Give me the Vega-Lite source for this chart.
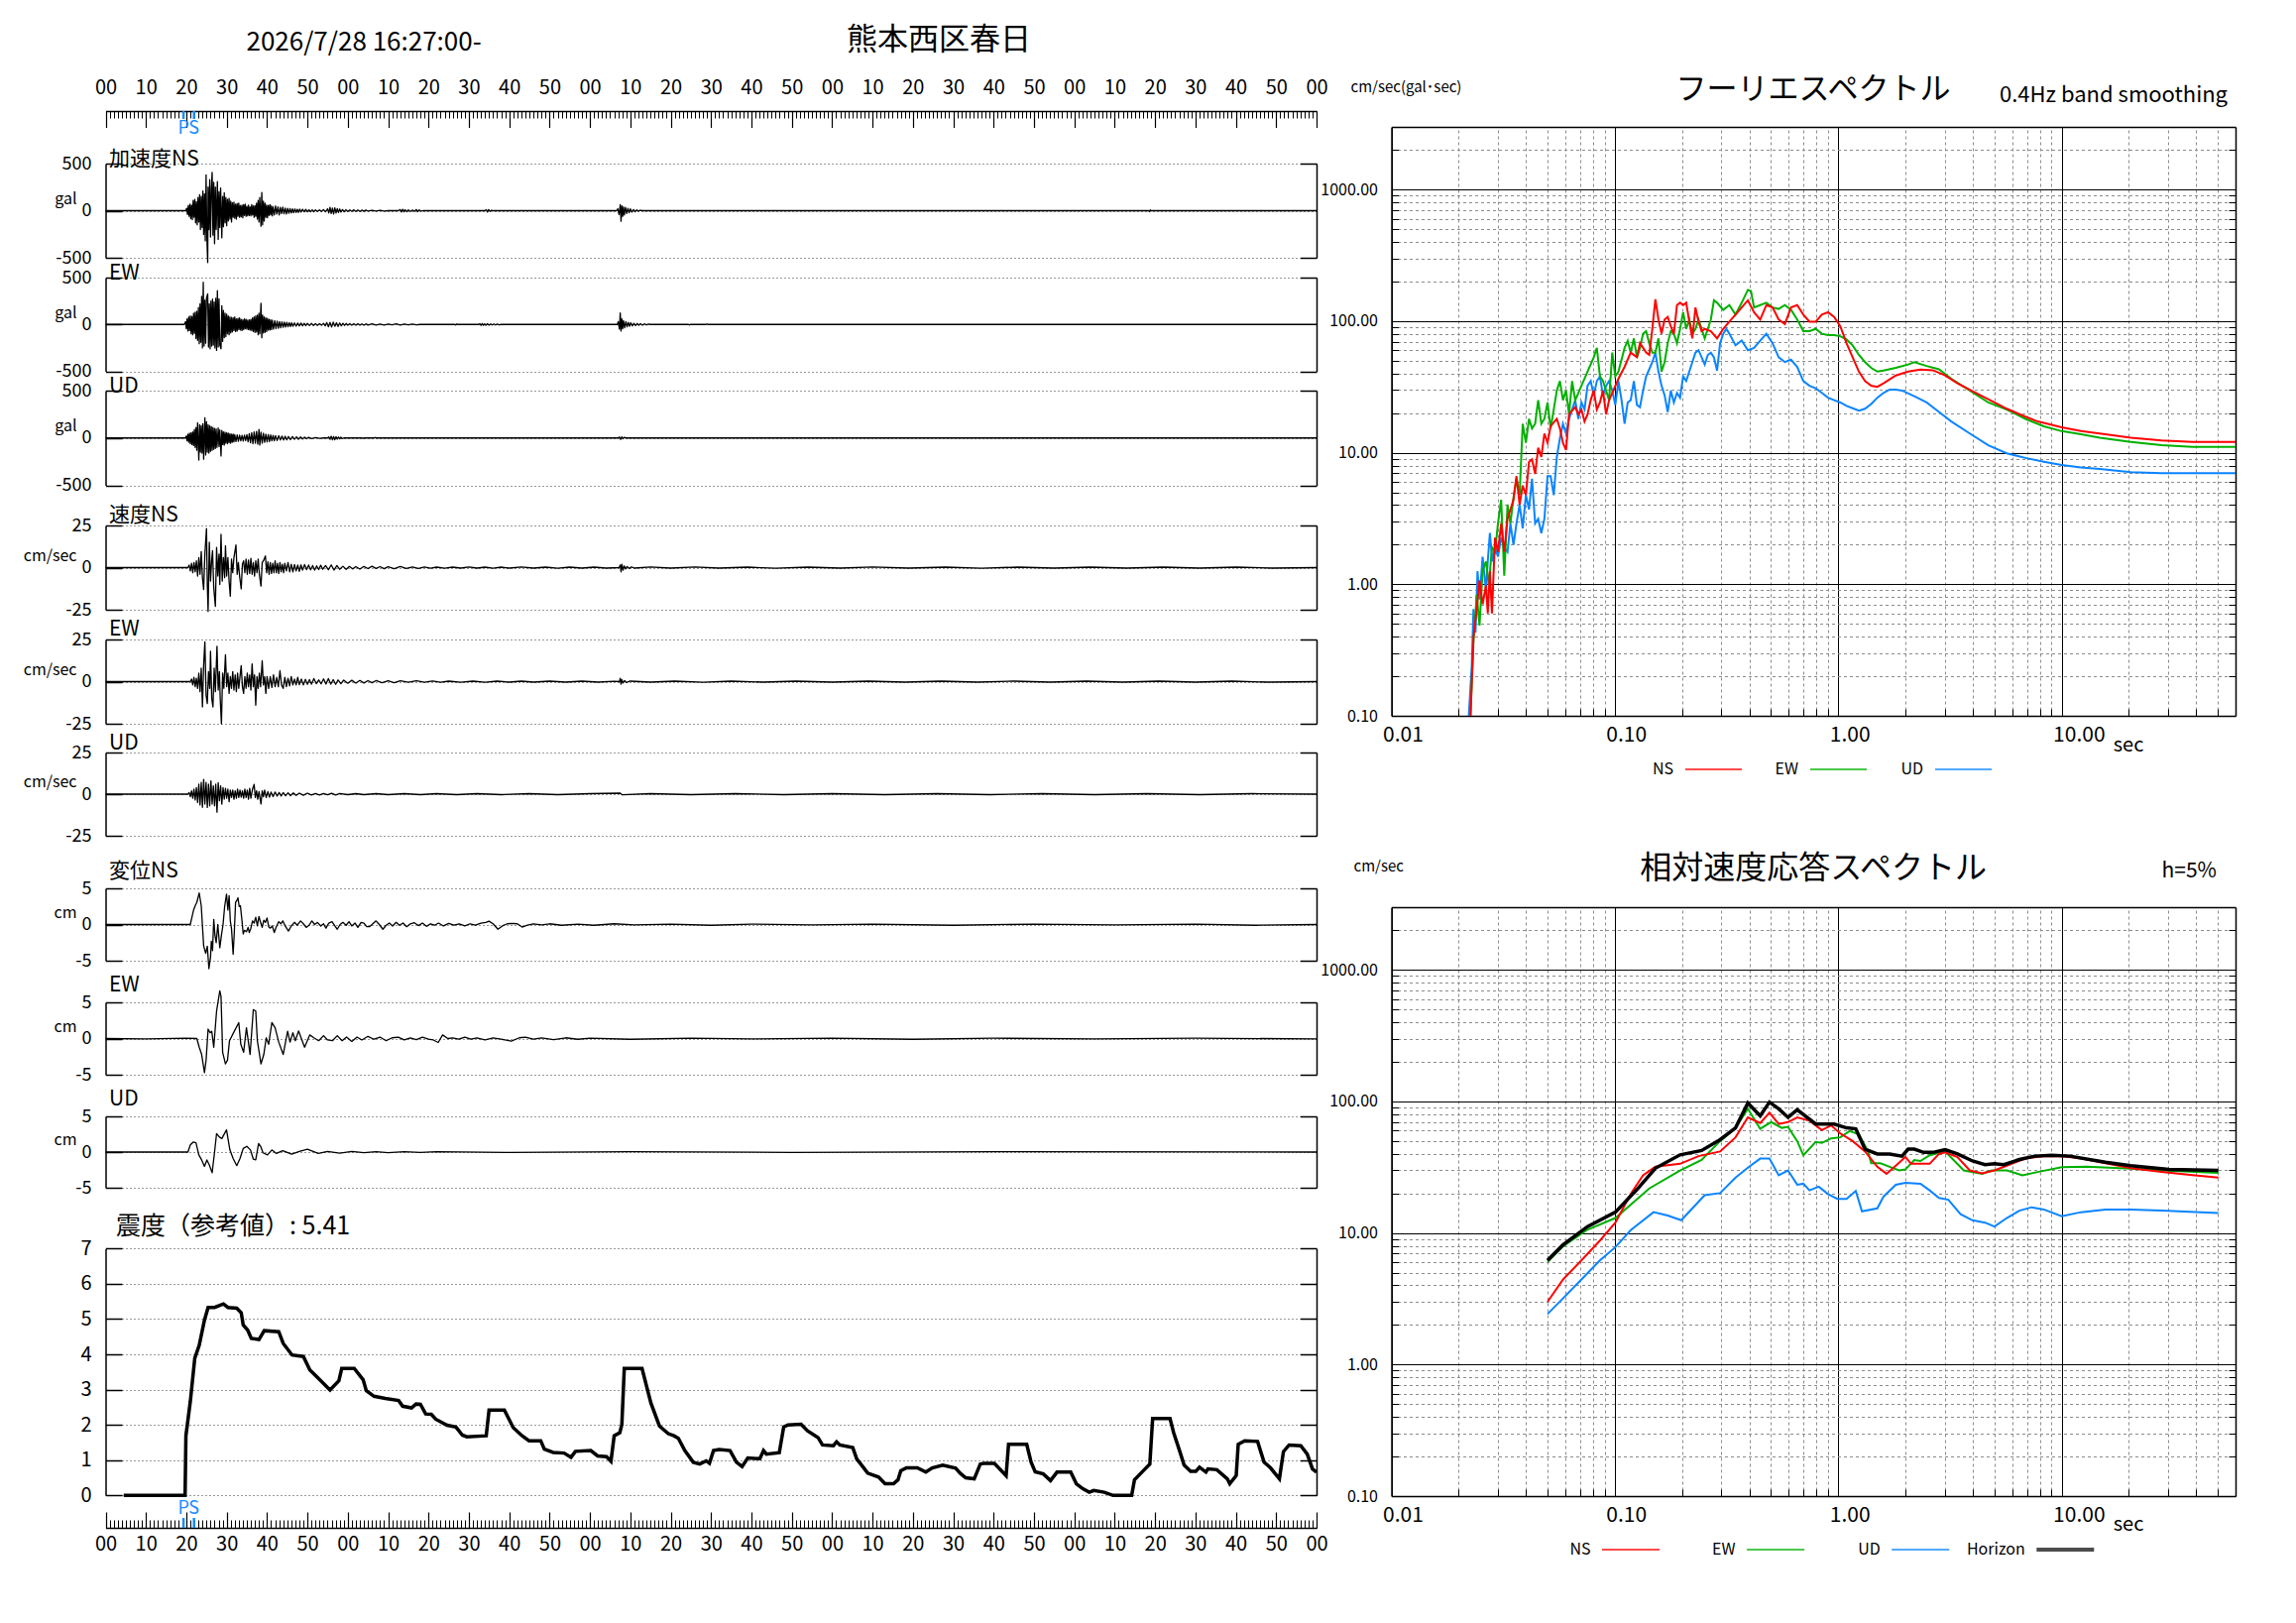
{
  "$schema": "https://vega.github.io/schema/vega-lite/v6.json",
  "width": 2316,
  "height": 1637,
  "autosize": {"type": "none"},
  "padding": 0,
  "background": "white",
  "config": {
    "view": {"stroke": null},
    "font": "Noto Sans CJK JP",
    "text": {"font": "Noto Sans CJK JP", "color": "#000"},
    "axis": {
      "labelFont": "Noto Sans CJK JP", "titleFont": "Noto Sans CJK JP",
      "labelColor": "#000", "titleColor": "#000", "domainColor": "#000", "tickColor": "#000",
      "labelFlush": false, "labelOverlap": false, "titleFontWeight": "normal",
      "gridColor": "#999", "gridDash": [2, 2], "gridWidth": 1, "tickWidth": 1
    }
  },
  "datasets": {
    "ps": [{"t": 19.3, "p": "P"}, {"t": 21.9, "p": "S"}],
    "fleg": [{"c": "NS"}, {"c": "EW"}, {"c": "UD"}],
    "rleg": [{"c": "NS"}, {"c": "EW"}, {"c": "UD"}, {"c": "Horizon"}],
    "aNS": [
      {"t":0,"v":0},{"t":19.8,"v":0},{"t":20.1,"v":25},{"t":20.3,"v":-40},{"t":20.5,"v":55},{"t":20.7,"v":-60},{"t":20.9,"v":70},{"t":21.1,"v":-85},{"t":21.3,"v":60},{"t":21.5,"v":-95},{"t":21.7,"v":110},{"t":21.9,"v":-70},{"t":22.1,"v":120},{"t":22.3,"v":-130},{"t":22.5,"v":95},{"t":22.7,"v":-150},{"t":22.9,"v":140},{"t":23.1,"v":-120},{"t":23.3,"v":170},{"t":23.5,"v":-200},{"t":23.7,"v":150},{"t":23.9,"v":-180},{"t":24.1,"v":210},{"t":24.3,"v":-253},{"t":24.5,"v":180},{"t":24.7,"v":-320},{"t":24.9,"v":379},{"t":25.1,"v":-300},{"t":25.3,"v":-551},{"t":25.4,"v":250},{"t":25.6,"v":-200},{"t":25.8,"v":330},{"t":26.0,"v":-280},{"t":26.2,"v":230},{"t":26.4,"v":407},{"t":26.6,"v":-260},{"t":26.8,"v":300},{"t":27.0,"v":-350},{"t":27.2,"v":250},{"t":27.4,"v":-200},{"t":27.7,"v":309},{"t":27.9,"v":-305},{"t":28.1,"v":200},{"t":28.3,"v":-180},{"t":28.5,"v":240},{"t":28.8,"v":-288},{"t":29.0,"v":150},{"t":29.2,"v":-170},{"t":29.4,"v":190},{"t":29.6,"v":-130},{"t":29.8,"v":140},{"t":30.0,"v":-160},{"t":30.2,"v":120},{"t":30.4,"v":-110},{"t":30.6,"v":130},{"t":30.8,"v":-90},{"t":31.0,"v":100},{"t":31.2,"v":-120},{"t":31.4,"v":85},{"t":31.6,"v":-70},{"t":31.8,"v":90},{"t":32.0,"v":-80},{"t":32.2,"v":70},{"t":32.4,"v":-90},{"t":32.6,"v":75},{"t":32.8,"v":-60},{"t":33.0,"v":80},{"t":33.2,"v":-70},{"t":33.4,"v":55},{"t":33.6,"v":-65},{"t":33.8,"v":60},{"t":34.0,"v":-75},{"t":34.2,"v":65},{"t":34.4,"v":-50},{"t":34.6,"v":70},{"t":34.8,"v":-60},{"t":35.0,"v":45},{"t":35.2,"v":-55},{"t":35.4,"v":60},{"t":35.6,"v":-50},{"t":35.8,"v":40},{"t":36.0,"v":-55},{"t":36.2,"v":65},{"t":36.4,"v":-45},{"t":36.6,"v":50},{"t":36.8,"v":-70},{"t":37.0,"v":55},{"t":37.2,"v":-60},{"t":37.4,"v":80},{"t":37.6,"v":-90},{"t":37.8,"v":110},{"t":38.0,"v":-120},{"t":38.2,"v":140},{"t":38.5,"v":-165},{"t":38.7,"v":193},{"t":38.9,"v":-150},{"t":39.1,"v":100},{"t":39.3,"v":-110},{"t":39.5,"v":80},{"t":39.7,"v":-70},{"t":39.9,"v":60},{"t":40.1,"v":-75},{"t":40.3,"v":55},{"t":40.5,"v":-50},{"t":40.7,"v":65},{"t":40.9,"v":-45},{"t":41.1,"v":50},{"t":41.3,"v":-55},{"t":41.5,"v":40},{"t":41.8,"v":-45},{"t":42.1,"v":50},{"t":42.4,"v":-35},{"t":42.7,"v":40},{"t":43.0,"v":-45},{"t":43.3,"v":35},{"t":43.6,"v":-30},{"t":43.9,"v":38},{"t":44.2,"v":-32},{"t":44.5,"v":28},{"t":44.8,"v":-35},{"t":45.1,"v":25},{"t":45.4,"v":-28},{"t":45.7,"v":22},{"t":46.0,"v":-25},{"t":46.3,"v":20},{"t":46.6,"v":-22},{"t":46.9,"v":18},{"t":47.2,"v":-20},{"t":47.5,"v":15},{"t":47.8,"v":-18},{"t":48.1,"v":16},{"t":48.4,"v":-14},{"t":48.8,"v":15},{"t":49.2,"v":-12},{"t":49.6,"v":14},{"t":50.0,"v":-12},{"t":50.4,"v":10},{"t":50.8,"v":-11},{"t":51.2,"v":9},{"t":51.6,"v":-10},{"t":52.0,"v":8},{"t":52.5,"v":-9},{"t":53.0,"v":8},{"t":53.5,"v":-8},{"t":54.0,"v":10},{"t":54.5,"v":-12},{"t":55.0,"v":20},{"t":55.3,"v":-25},{"t":55.6,"v":35},{"t":55.9,"v":-30},{"t":56.2,"v":28},{"t":56.5,"v":-35},{"t":56.8,"v":30},{"t":57.1,"v":-25},{"t":57.4,"v":22},{"t":57.7,"v":-20},{"t":58.0,"v":18},{"t":58.3,"v":-15},{"t":58.7,"v":12},{"t":59.1,"v":-12},{"t":59.5,"v":10},{"t":60.0,"v":-9},{"t":60.5,"v":8},{"t":61,"v":-7},{"t":61.5,"v":9},{"t":62,"v":-8},{"t":62.5,"v":7},{"t":63,"v":-8},{"t":63.5,"v":6},{"t":64,"v":-7},{"t":64.5,"v":6},{"t":65,"v":-5},{"t":66,"v":5},{"t":67,"v":-5},{"t":68,"v":4},{"t":69,"v":-4},{"t":70,"v":0},{"t":72.5,"v":0},{"t":73.0,"v":12},{"t":73.3,"v":-14},{"t":73.6,"v":15},{"t":73.9,"v":-12},{"t":74.2,"v":10},{"t":74.6,"v":-10},{"t":75.0,"v":8},{"t":75.5,"v":-8},{"t":76,"v":6},{"t":76.5,"v":-7},{"t":77,"v":12},{"t":77.3,"v":-10},{"t":77.7,"v":8},{"t":78.2,"v":-5},{"t":78.6,"v":0},{"t":94.0,"v":0},{"t":94.3,"v":10},{"t":94.6,"v":-14},{"t":94.9,"v":12},{"t":95.2,"v":-8},{"t":95.6,"v":5},{"t":96.0,"v":0},{"t":126.6,"v":0},{"t":126.9,"v":20},{"t":127.2,"v":-40},{"t":127.5,"v":63},{"t":127.7,"v":-112},{"t":127.9,"v":50},{"t":128.1,"v":-60},{"t":128.3,"v":40},{"t":128.5,"v":-45},{"t":128.8,"v":35},{"t":129.1,"v":-30},{"t":129.4,"v":25},{"t":129.7,"v":-22},{"t":130.0,"v":20},{"t":130.4,"v":-15},{"t":130.8,"v":12},{"t":131.2,"v":-10},{"t":131.6,"v":8},{"t":132.0,"v":-6},{"t":132.4,"v":5},{"t":133,"v":0},{"t":258.4,"v":0},{"t":258.6,"v":-10},{"t":258.8,"v":8},{"t":259,"v":0},{"t":300,"v":0}
    ],
    "aEW": [
      {"t":0,"v":0},{"t":19.5,"v":0},{"t":19.8,"v":30},{"t":20.0,"v":-45},{"t":20.2,"v":60},{"t":20.4,"v":-70},{"t":20.6,"v":80},{"t":20.8,"v":-65},{"t":21.0,"v":90},{"t":21.2,"v":-100},{"t":21.4,"v":85},{"t":21.6,"v":-110},{"t":21.8,"v":120},{"t":22.0,"v":-95},{"t":22.2,"v":130},{"t":22.4,"v":-150},{"t":22.6,"v":140},{"t":22.8,"v":-170},{"t":23.0,"v":180},{"t":23.2,"v":-205},{"t":23.4,"v":220},{"t":23.6,"v":-190},{"t":23.8,"v":300},{"t":24.0,"v":-250},{"t":24.2,"v":450},{"t":24.4,"v":-230},{"t":24.6,"v":260},{"t":24.8,"v":-200},{"t":25.0,"v":280},{"t":25.3,"v":326},{"t":25.5,"v":-241},{"t":25.7,"v":220},{"t":25.9,"v":-260},{"t":26.1,"v":250},{"t":26.3,"v":-230},{"t":26.5,"v":270},{"t":26.7,"v":-220},{"t":26.9,"v":240},{"t":27.1,"v":-250},{"t":27.3,"v":280},{"t":27.5,"v":-277},{"t":27.7,"v":360},{"t":27.9,"v":-240},{"t":28.1,"v":273},{"t":28.3,"v":-220},{"t":28.6,"v":-259},{"t":28.8,"v":200},{"t":29.0,"v":-180},{"t":29.2,"v":150},{"t":29.4,"v":-140},{"t":29.6,"v":120},{"t":29.8,"v":-130},{"t":30.0,"v":110},{"t":30.2,"v":-100},{"t":30.4,"v":90},{"t":30.6,"v":-110},{"t":30.8,"v":80},{"t":31.0,"v":-90},{"t":31.2,"v":75},{"t":31.4,"v":-80},{"t":31.6,"v":70},{"t":31.8,"v":-65},{"t":32.0,"v":80},{"t":32.2,"v":-75},{"t":32.4,"v":60},{"t":32.6,"v":-70},{"t":32.8,"v":65},{"t":33.0,"v":-55},{"t":33.2,"v":70},{"t":33.4,"v":-60},{"t":33.6,"v":55},{"t":33.8,"v":-65},{"t":34.0,"v":50},{"t":34.2,"v":-55},{"t":34.4,"v":60},{"t":34.6,"v":-45},{"t":34.8,"v":55},{"t":35.0,"v":-50},{"t":35.2,"v":45},{"t":35.4,"v":-55},{"t":35.6,"v":50},{"t":35.8,"v":-60},{"t":36.0,"v":55},{"t":36.2,"v":-65},{"t":36.4,"v":70},{"t":36.6,"v":-75},{"t":36.8,"v":80},{"t":37.0,"v":-85},{"t":37.2,"v":90},{"t":37.4,"v":-80},{"t":37.6,"v":100},{"t":37.8,"v":-110},{"t":38.0,"v":120},{"t":38.2,"v":-100},{"t":38.5,"v":227},{"t":38.7,"v":-142},{"t":38.9,"v":100},{"t":39.1,"v":-90},{"t":39.3,"v":80},{"t":39.5,"v":-85},{"t":39.7,"v":70},{"t":39.9,"v":-75},{"t":40.1,"v":65},{"t":40.3,"v":-60},{"t":40.5,"v":55},{"t":40.7,"v":-60},{"t":40.9,"v":50},{"t":41.1,"v":-55},{"t":41.3,"v":45},{"t":41.6,"v":-50},{"t":41.9,"v":40},{"t":42.2,"v":-45},{"t":42.5,"v":35},{"t":42.8,"v":-40},{"t":43.1,"v":30},{"t":43.4,"v":-35},{"t":43.7,"v":28},{"t":44.0,"v":-30},{"t":44.3,"v":25},{"t":44.6,"v":-28},{"t":44.9,"v":22},{"t":45.2,"v":-25},{"t":45.5,"v":20},{"t":45.8,"v":-22},{"t":46.1,"v":18},{"t":46.4,"v":-20},{"t":46.8,"v":16},{"t":47.2,"v":-18},{"t":47.6,"v":15},{"t":48.0,"v":-16},{"t":48.4,"v":14},{"t":48.8,"v":-15},{"t":49.2,"v":12},{"t":49.6,"v":-13},{"t":50.0,"v":11},{"t":50.5,"v":-12},{"t":51.0,"v":10},{"t":51.5,"v":-11},{"t":52.0,"v":9},{"t":52.5,"v":-10},{"t":53.0,"v":8},{"t":53.5,"v":-9},{"t":54.0,"v":12},{"t":54.4,"v":-15},{"t":54.8,"v":20},{"t":55.2,"v":-25},{"t":55.6,"v":22},{"t":56.0,"v":-28},{"t":56.4,"v":25},{"t":56.8,"v":-20},{"t":57.2,"v":18},{"t":57.6,"v":-22},{"t":58.0,"v":15},{"t":58.4,"v":-14},{"t":58.8,"v":12},{"t":59.2,"v":-10},{"t":59.6,"v":10},{"t":60.0,"v":-9},{"t":60.5,"v":8},{"t":61,"v":-9},{"t":61.5,"v":7},{"t":62,"v":-8},{"t":62.5,"v":8},{"t":63,"v":-7},{"t":63.5,"v":6},{"t":64,"v":-8},{"t":64.5,"v":6},{"t":65,"v":-6},{"t":66,"v":7},{"t":67,"v":-6},{"t":68,"v":5},{"t":69,"v":-6},{"t":70,"v":5},{"t":71,"v":-5},{"t":72,"v":6},{"t":73,"v":-6},{"t":74,"v":5},{"t":75,"v":-5},{"t":76,"v":4},{"t":77,"v":-4},{"t":78,"v":0},{"t":86.5,"v":0},{"t":86.7,"v":-6},{"t":86.9,"v":5},{"t":87.1,"v":0},{"t":92.4,"v":0},{"t":92.7,"v":8},{"t":93.0,"v":-10},{"t":93.3,"v":9},{"t":93.6,"v":-8},{"t":93.9,"v":7},{"t":94.2,"v":-9},{"t":94.6,"v":8},{"t":95.0,"v":-7},{"t":95.4,"v":6},{"t":95.8,"v":-6},{"t":96.2,"v":5},{"t":96.6,"v":-5},{"t":97.0,"v":4},{"t":97.5,"v":-4},{"t":98,"v":0},{"t":126.8,"v":0},{"t":127.0,"v":30},{"t":127.3,"v":-50},{"t":127.5,"v":124},{"t":127.7,"v":-71},{"t":127.9,"v":60},{"t":128.1,"v":-45},{"t":128.3,"v":40},{"t":128.6,"v":-35},{"t":128.9,"v":30},{"t":129.2,"v":-25},{"t":129.5,"v":22},{"t":129.8,"v":-20},{"t":130.1,"v":18},{"t":130.5,"v":-15},{"t":130.9,"v":12},{"t":131.3,"v":-12},{"t":131.7,"v":10},{"t":132.1,"v":-9},{"t":132.5,"v":8},{"t":133,"v":-7},{"t":133.5,"v":6},{"t":134,"v":-5},{"t":134.5,"v":4},{"t":135,"v":0},{"t":144.4,"v":0},{"t":144.6,"v":-6},{"t":144.8,"v":0},{"t":148.8,"v":0},{"t":149.0,"v":5},{"t":149.2,"v":0},{"t":300,"v":0}
    ],
    "aUD": [
      {"t":0,"v":0},{"t":19.8,"v":0},{"t":20.0,"v":20},{"t":20.2,"v":-30},{"t":20.4,"v":40},{"t":20.6,"v":-45},{"t":20.8,"v":50},{"t":21.0,"v":-60},{"t":21.2,"v":55},{"t":21.4,"v":-70},{"t":21.6,"v":65},{"t":21.8,"v":-80},{"t":22.0,"v":90},{"t":22.2,"v":-100},{"t":22.4,"v":110},{"t":22.6,"v":-130},{"t":22.8,"v":160},{"t":23.1,"v":-234},{"t":23.3,"v":140},{"t":23.5,"v":-150},{"t":23.7,"v":130},{"t":23.9,"v":-160},{"t":24.1,"v":150},{"t":24.3,"v":-224},{"t":24.6,"v":213},{"t":24.8,"v":-180},{"t":25.0,"v":170},{"t":25.2,"v":-150},{"t":25.4,"v":140},{"t":25.6,"v":-160},{"t":25.8,"v":130},{"t":26.0,"v":-140},{"t":26.2,"v":120},{"t":26.4,"v":-130},{"t":26.6,"v":110},{"t":26.8,"v":-120},{"t":27.0,"v":100},{"t":27.2,"v":-110},{"t":27.4,"v":95},{"t":27.6,"v":-100},{"t":27.9,"v":105},{"t":28.1,"v":-90},{"t":28.3,"v":85},{"t":28.6,"v":-190},{"t":28.8,"v":80},{"t":29.0,"v":-70},{"t":29.2,"v":65},{"t":29.4,"v":-75},{"t":29.6,"v":60},{"t":29.8,"v":-55},{"t":30.0,"v":55},{"t":30.2,"v":-60},{"t":30.4,"v":50},{"t":30.6,"v":-50},{"t":30.8,"v":45},{"t":31.0,"v":-55},{"t":31.2,"v":40},{"t":31.4,"v":-45},{"t":31.6,"v":40},{"t":31.8,"v":-40},{"t":32.0,"v":35},{"t":32.3,"v":-38},{"t":32.6,"v":32},{"t":32.9,"v":-35},{"t":33.2,"v":30},{"t":33.5,"v":-30},{"t":33.8,"v":28},{"t":34.1,"v":-32},{"t":34.4,"v":30},{"t":34.7,"v":-28},{"t":35.0,"v":35},{"t":35.3,"v":-40},{"t":35.6,"v":45},{"t":35.9,"v":-50},{"t":36.2,"v":55},{"t":36.5,"v":-60},{"t":36.8,"v":65},{"t":37.1,"v":-55},{"t":37.4,"v":70},{"t":37.7,"v":-65},{"t":38.0,"v":90},{"t":38.2,"v":-75},{"t":38.5,"v":60},{"t":38.8,"v":-55},{"t":39.1,"v":50},{"t":39.4,"v":-45},{"t":39.7,"v":40},{"t":40.0,"v":-42},{"t":40.3,"v":35},{"t":40.6,"v":-38},{"t":40.9,"v":32},{"t":41.2,"v":-30},{"t":41.5,"v":28},{"t":41.8,"v":-30},{"t":42.1,"v":25},{"t":42.5,"v":-27},{"t":42.9,"v":24},{"t":43.3,"v":-22},{"t":43.7,"v":20},{"t":44.1,"v":-22},{"t":44.5,"v":18},{"t":44.9,"v":-20},{"t":45.3,"v":16},{"t":45.8,"v":-18},{"t":46.3,"v":15},{"t":46.8,"v":-14},{"t":47.3,"v":12},{"t":47.8,"v":-13},{"t":48.3,"v":10},{"t":48.8,"v":-11},{"t":49.3,"v":9},{"t":49.8,"v":-8},{"t":50.3,"v":7},{"t":51,"v":-6},{"t":52,"v":5},{"t":53,"v":-5},{"t":54,"v":0},{"t":55.0,"v":0},{"t":55.3,"v":12},{"t":55.6,"v":-15},{"t":55.9,"v":18},{"t":56.2,"v":-20},{"t":56.5,"v":15},{"t":56.8,"v":-18},{"t":57.1,"v":14},{"t":57.4,"v":-12},{"t":57.7,"v":10},{"t":58.0,"v":-9},{"t":58.3,"v":8},{"t":58.6,"v":-6},{"t":59,"v":0},{"t":63.6,"v":0},{"t":63.8,"v":-6},{"t":64,"v":0},{"t":66.6,"v":0},{"t":66.8,"v":5},{"t":67,"v":0},{"t":127.0,"v":0},{"t":127.3,"v":10},{"t":127.6,"v":-15},{"t":127.9,"v":12},{"t":128.2,"v":-8},{"t":128.5,"v":6},{"t":129,"v":0},{"t":300,"v":0}
    ],
    "vNS": [
      {"t":0,"v":0},{"t":20.4,"v":0},{"t":20.7,"v":1.5},{"t":21.0,"v":-2},{"t":21.3,"v":2.5},{"t":21.6,"v":-3},{"t":21.9,"v":3},{"t":22.2,"v":-2.5},{"t":22.5,"v":4},{"t":22.8,"v":-5},{"t":23.1,"v":6},{"t":23.4,"v":-4},{"t":23.7,"v":9.5},{"t":24.0,"v":-6},{"t":24.3,"v":-13},{"t":24.6,"v":8},{"t":25.0,"v":23.2},{"t":25.2,"v":-10},{"t":25.4,"v":-26},{"t":25.7,"v":15},{"t":26.0,"v":-8},{"t":26.3,"v":5},{"t":26.5,"v":10},{"t":26.8,"v":-12},{"t":27.2,"v":-23},{"t":27.5,"v":12},{"t":27.8,"v":-5},{"t":28.1,"v":8},{"t":28.3,"v":-10},{"t":28.6,"v":19.7},{"t":28.9,"v":-8},{"t":29.2,"v":6},{"t":29.5,"v":-6},{"t":29.7,"v":13},{"t":30.0,"v":-5},{"t":30.3,"v":6},{"t":30.6,"v":-8},{"t":30.9,"v":-17},{"t":31.2,"v":5},{"t":31.5,"v":-3},{"t":31.8,"v":6},{"t":32.3,"v":13.4},{"t":32.6,"v":-4},{"t":32.9,"v":3},{"t":33.2,"v":-5},{"t":33.6,"v":-12.6},{"t":33.9,"v":2},{"t":34.2,"v":4},{"t":34.5,"v":-3},{"t":34.8,"v":5},{"t":35.1,"v":-4},{"t":35.4,"v":4.5},{"t":35.7,"v":-3.5},{"t":36.0,"v":5.5},{"t":36.3,"v":-4},{"t":36.6,"v":3},{"t":36.9,"v":-5},{"t":37.2,"v":4},{"t":37.5,"v":-3},{"t":37.8,"v":5},{"t":38.1,"v":-4},{"t":38.5,"v":-11},{"t":38.8,"v":3},{"t":39.1,"v":4},{"t":39.6,"v":6.9},{"t":39.9,"v":-3},{"t":40.2,"v":3.5},{"t":40.5,"v":-4},{"t":40.8,"v":3},{"t":41.1,"v":-3.5},{"t":41.4,"v":2.5},{"t":41.7,"v":-3},{"t":42.0,"v":4},{"t":42.3,"v":-3},{"t":42.6,"v":2.5},{"t":42.9,"v":-3.5},{"t":43.2,"v":3},{"t":43.5,"v":-2.5},{"t":43.8,"v":2},{"t":44.1,"v":-3},{"t":44.4,"v":2.5},{"t":44.8,"v":-2},{"t":45.2,"v":3},{"t":45.6,"v":-2.5},{"t":46.0,"v":2},{"t":46.4,"v":-2.5},{"t":46.8,"v":1.8},{"t":47.2,"v":-2},{"t":47.6,"v":1.5},{"t":48.0,"v":-2.2},{"t":48.4,"v":1.6},{"t":48.8,"v":-1.5},{"t":49.3,"v":1.8},{"t":49.8,"v":-1.2},{"t":50.3,"v":1.5},{"t":50.8,"v":-1.3},{"t":51.3,"v":1.2},{"t":51.8,"v":-1.5},{"t":52.3,"v":1.0},{"t":52.8,"v":-1.2},{"t":53.3,"v":1.4},{"t":53.8,"v":-1.0},{"t":54.5,"v":1.2},{"t":55.2,"v":-1.3},{"t":55.9,"v":1.6},{"t":56.6,"v":-1.5},{"t":57.3,"v":1.2},{"t":58.0,"v":-1.0},{"t":58.8,"v":0.8},{"t":59.6,"v":-1.0},{"t":60.4,"v":0.7},{"t":61.2,"v":-0.8},{"t":62,"v":0.6},{"t":63,"v":-0.9},{"t":64,"v":0.7},{"t":65,"v":-0.6},{"t":66,"v":0.8},{"t":67,"v":-0.5},{"t":68,"v":0.6},{"t":69,"v":-0.7},{"t":70,"v":0.5},{"t":71.5,"v":-0.6},{"t":73,"v":0.7},{"t":74.5,"v":-0.5},{"t":76,"v":0.4},{"t":77.5,"v":-0.5},{"t":79,"v":0.4},{"t":80.5,"v":-0.4},{"t":82,"v":0.3},{"t":84,"v":-0.4},{"t":86,"v":0.3},{"t":88,"v":-0.3},{"t":90,"v":0.4},{"t":92,"v":-0.3},{"t":94,"v":0.3},{"t":96,"v":-0.4},{"t":98,"v":0.3},{"t":100,"v":-0.3},{"t":103,"v":0.4},{"t":106,"v":-0.3},{"t":109,"v":0.3},{"t":112,"v":-0.4},{"t":115,"v":0.3},{"t":118,"v":-0.3},{"t":121,"v":0.3},{"t":124,"v":-0.3},{"t":127.2,"v":0},{"t":127.5,"v":1.5},{"t":127.7,"v":-2.5},{"t":127.9,"v":2.0},{"t":128.2,"v":-1.5},{"t":128.5,"v":1.0},{"t":128.8,"v":-0.8},{"t":129.2,"v":0.6},{"t":129.7,"v":-0.5},{"t":130.3,"v":0.4},{"t":131,"v":-0.3},{"t":135,"v":0.4},{"t":140,"v":-0.3},{"t":146,"v":0.4},{"t":152,"v":-0.3},{"t":159,"v":0.3},{"t":166,"v":-0.4},{"t":174,"v":0.3},{"t":182,"v":-0.3},{"t":190,"v":0.4},{"t":199,"v":-0.3},{"t":208,"v":0.3},{"t":217,"v":-0.4},{"t":226,"v":0.3},{"t":235,"v":-0.3},{"t":244,"v":0.3},{"t":253,"v":-0.3},{"t":262,"v":0.3},{"t":271,"v":-0.3},{"t":280,"v":0.3},{"t":289,"v":-0.3},{"t":300,"v":0}
    ],
    "vEW": [
      {"t":0,"v":0},{"t":21.0,"v":0},{"t":21.3,"v":1.5},{"t":21.6,"v":-2},{"t":21.9,"v":2.5},{"t":22.2,"v":-3},{"t":22.5,"v":2},{"t":22.8,"v":-4},{"t":23.1,"v":5},{"t":23.4,"v":-6},{"t":23.7,"v":8},{"t":24.0,"v":-15},{"t":24.3,"v":10},{"t":24.6,"v":23.6},{"t":24.9,"v":-8},{"t":25.2,"v":-13},{"t":25.5,"v":6},{"t":25.8,"v":-4},{"t":26.0,"v":18},{"t":26.3,"v":-10},{"t":26.6,"v":-15},{"t":26.9,"v":8},{"t":27.2,"v":-6},{"t":27.6,"v":21},{"t":27.9,"v":-5},{"t":28.2,"v":6},{"t":28.4,"v":-10},{"t":28.7,"v":-25},{"t":29.0,"v":5},{"t":29.3,"v":-4},{"t":29.7,"v":16},{"t":30.0,"v":-3},{"t":30.3,"v":5},{"t":30.6,"v":-7},{"t":30.9,"v":3},{"t":31.2,"v":-4},{"t":31.5,"v":6},{"t":31.8,"v":-5},{"t":32.1,"v":4},{"t":32.4,"v":-6},{"t":32.7,"v":5},{"t":33.0,"v":-4},{"t":33.3,"v":3},{"t":33.6,"v":9.5},{"t":33.9,"v":-3},{"t":34.2,"v":-7},{"t":34.5,"v":3},{"t":34.8,"v":-4},{"t":35.1,"v":5},{"t":35.4,"v":-3},{"t":35.7,"v":4},{"t":36.0,"v":-5},{"t":36.3,"v":10.5},{"t":36.6,"v":-3},{"t":36.9,"v":4},{"t":37.2,"v":-14},{"t":37.5,"v":3},{"t":37.8,"v":-4},{"t":38.1,"v":5},{"t":38.4,"v":-3},{"t":38.8,"v":12.4},{"t":39.1,"v":-2},{"t":39.4,"v":3},{"t":39.7,"v":-7},{"t":40.0,"v":3},{"t":40.4,"v":-4},{"t":40.8,"v":3},{"t":41.2,"v":-3.5},{"t":41.6,"v":4},{"t":42.0,"v":-3},{"t":42.4,"v":2.5},{"t":42.8,"v":-3},{"t":43.2,"v":6.5},{"t":43.6,"v":-2},{"t":44.0,"v":-4},{"t":44.4,"v":2.5},{"t":44.8,"v":-3},{"t":45.2,"v":2},{"t":45.6,"v":-2.5},{"t":46.0,"v":3},{"t":46.4,"v":-2},{"t":46.8,"v":1.5},{"t":47.2,"v":-2},{"t":47.6,"v":2.5},{"t":48.0,"v":-1.8},{"t":48.5,"v":1.5},{"t":49.0,"v":-2},{"t":49.5,"v":1.4},{"t":50.0,"v":-1.6},{"t":50.5,"v":1.2},{"t":51.0,"v":-1.5},{"t":51.6,"v":1.8},{"t":52.2,"v":-1.2},{"t":52.8,"v":1.0},{"t":53.4,"v":-1.3},{"t":54.0,"v":1.6},{"t":54.6,"v":-1.4},{"t":55.2,"v":1.8},{"t":55.8,"v":-1.5},{"t":56.4,"v":1.2},{"t":57.0,"v":-1.6},{"t":57.6,"v":1.0},{"t":58.3,"v":-1.2},{"t":59.0,"v":0.9},{"t":60,"v":-1.0},{"t":61,"v":0.8},{"t":62,"v":-0.9},{"t":63,"v":0.7},{"t":64,"v":-0.8},{"t":65,"v":0.6},{"t":66,"v":-0.7},{"t":67,"v":0.6},{"t":68.5,"v":-0.6},{"t":70,"v":0.5},{"t":71.5,"v":-0.6},{"t":73,"v":0.5},{"t":75,"v":-0.4},{"t":77,"v":0.5},{"t":79,"v":-0.4},{"t":81,"v":0.4},{"t":83,"v":-0.4},{"t":85,"v":0.3},{"t":88,"v":-0.4},{"t":91,"v":0.3},{"t":94,"v":-0.4},{"t":97,"v":0.3},{"t":100,"v":-0.3},{"t":103,"v":0.3},{"t":106,"v":-0.3},{"t":110,"v":0.3},{"t":114,"v":-0.3},{"t":118,"v":0.3},{"t":122,"v":-0.3},{"t":126,"v":0.2},{"t":127.3,"v":0},{"t":127.5,"v":2.0},{"t":127.7,"v":-1.5},{"t":127.9,"v":1.2},{"t":128.2,"v":-0.8},{"t":128.6,"v":0.6},{"t":129,"v":-0.5},{"t":130,"v":0.3},{"t":135,"v":-0.3},{"t":141,"v":0.3},{"t":148,"v":-0.4},{"t":155,"v":0.3},{"t":163,"v":-0.3},{"t":171,"v":0.3},{"t":180,"v":-0.3},{"t":189,"v":0.3},{"t":198,"v":-0.3},{"t":207,"v":0.3},{"t":216,"v":-0.3},{"t":225,"v":0.3},{"t":234,"v":-0.3},{"t":243,"v":0.3},{"t":252,"v":-0.3},{"t":261,"v":0.3},{"t":270,"v":-0.3},{"t":279,"v":0.3},{"t":288,"v":-0.3},{"t":300,"v":0}
    ],
    "vUD": [
      {"t":0,"v":0},{"t":20.4,"v":0},{"t":20.7,"v":1},{"t":21.0,"v":-1.5},{"t":21.3,"v":2},{"t":21.6,"v":-2.5},{"t":21.9,"v":3},{"t":22.2,"v":-3.5},{"t":22.5,"v":4},{"t":22.8,"v":-5},{"t":23.1,"v":6},{"t":23.4,"v":-6.5},{"t":23.7,"v":7},{"t":24.0,"v":-7.9},{"t":24.3,"v":8.9},{"t":24.6,"v":-6},{"t":24.9,"v":7},{"t":25.2,"v":-8},{"t":25.5,"v":6},{"t":25.8,"v":-7},{"t":26.1,"v":8},{"t":26.4,"v":-6},{"t":26.7,"v":5},{"t":27.0,"v":-7},{"t":27.3,"v":6},{"t":27.6,"v":-10.8},{"t":27.9,"v":6.9},{"t":28.2,"v":-4},{"t":28.5,"v":5},{"t":28.8,"v":-6},{"t":29.1,"v":4},{"t":29.4,"v":-3},{"t":29.7,"v":3.5},{"t":30.0,"v":-2.5},{"t":30.3,"v":3},{"t":30.6,"v":-4.5},{"t":30.9,"v":2.5},{"t":31.2,"v":-2},{"t":31.5,"v":2.5},{"t":31.8,"v":-3},{"t":32.1,"v":2},{"t":32.4,"v":-2.5},{"t":32.7,"v":3},{"t":33.0,"v":-2},{"t":33.3,"v":2.5},{"t":33.6,"v":-1.8},{"t":33.9,"v":2},{"t":34.2,"v":-2.5},{"t":34.5,"v":3},{"t":34.8,"v":-2},{"t":35.1,"v":2.5},{"t":35.4,"v":-3},{"t":35.7,"v":3.5},{"t":36.0,"v":-2.5},{"t":36.4,"v":3},{"t":36.8,"v":5.9},{"t":37.1,"v":-2},{"t":37.4,"v":2},{"t":37.7,"v":-3},{"t":38.0,"v":1.5},{"t":38.5,"v":-5.9},{"t":38.8,"v":2},{"t":39.1,"v":-1.5},{"t":39.4,"v":2.5},{"t":39.8,"v":-2},{"t":40.2,"v":1.5},{"t":40.6,"v":-1.8},{"t":41.0,"v":1.2},{"t":41.5,"v":-1.5},{"t":42.0,"v":1.3},{"t":42.5,"v":-1.2},{"t":43.0,"v":1.0},{"t":43.5,"v":-1.1},{"t":44.0,"v":0.9},{"t":44.6,"v":-1.0},{"t":45.2,"v":0.8},{"t":45.8,"v":-0.9},{"t":46.5,"v":0.7},{"t":47.2,"v":-0.8},{"t":48,"v":0.6},{"t":49,"v":-0.7},{"t":50,"v":0.6},{"t":51,"v":-0.5},{"t":52,"v":0.4},{"t":53,"v":-0.5},{"t":54,"v":0.4},{"t":55,"v":-0.4},{"t":56,"v":0.5},{"t":57,"v":-0.5},{"t":58,"v":0.4},{"t":60,"v":-0.3},{"t":62,"v":0.3},{"t":64,"v":-0.3},{"t":67,"v":0.3},{"t":70,"v":-0.3},{"t":74,"v":0.3},{"t":78,"v":-0.3},{"t":82,"v":0.3},{"t":87,"v":-0.3},{"t":92,"v":0.3},{"t":98,"v":-0.3},{"t":105,"v":0.3},{"t":112,"v":-0.3},{"t":120,"v":0.3},{"t":127.5,"v":0.6},{"t":128,"v":-0.4},{"t":135,"v":0.3},{"t":145,"v":-0.3},{"t":156,"v":0.3},{"t":168,"v":-0.3},{"t":180,"v":0.3},{"t":193,"v":-0.3},{"t":206,"v":0.3},{"t":219,"v":-0.3},{"t":232,"v":0.3},{"t":245,"v":-0.3},{"t":258,"v":0.3},{"t":271,"v":-0.3},{"t":284,"v":0.3},{"t":300,"v":0}
    ],
    "dNS": [
      {"t":0,"v":0},{"t":20.98,"v":0},{"t":21.4,"v":1.0},{"t":21.8,"v":2.0},{"t":22.2,"v":2.6},{"t":22.6,"v":3.05},{"t":23.2,"v":4.35},{"t":23.7,"v":2.6},{"t":24.3,"v":-2.96},{"t":24.8,"v":-4.0},{"t":25.2,"v":-3.0},{"t":25.6,"v":-6.1},{"t":26.0,"v":-4.5},{"t":26.2,"v":-2.3},{"t":26.5,"v":-3.6},{"t":26.8,"v":0.7},{"t":27.1,"v":-1.5},{"t":27.4,"v":-2.5},{"t":27.8,"v":0.0},{"t":28.3,"v":-3.2},{"t":28.7,"v":-1.5},{"t":29.1,"v":0},{"t":29.5,"v":2.5},{"t":29.96,"v":4.2},{"t":30.3,"v":2.0},{"t":30.6,"v":4.0},{"t":30.9,"v":0.5},{"t":31.2,"v":-0.6},{"t":31.6,"v":-4.1},{"t":31.9,"v":-1.0},{"t":32.2,"v":3.05},{"t":32.5,"v":3.3},{"t":32.8,"v":3.7},{"t":33.1,"v":2.5},{"t":33.4,"v":2.6},{"t":33.8,"v":0.5},{"t":34.1,"v":-1.3},{"t":34.4,"v":-0.8},{"t":34.9,"v":-1.0},{"t":35.3,"v":-0.4},{"t":35.6,"v":-1.1},{"t":36.0,"v":-0.5},{"t":36.4,"v":0.5},{"t":36.8,"v":0.2},{"t":37.2,"v":1.0},{"t":37.6,"v":-0.2},{"t":38.0,"v":1.1},{"t":38.4,"v":0.3},{"t":38.8,"v":-0.4},{"t":39.2,"v":0.6},{"t":39.6,"v":0.3},{"t":40.0,"v":0.9},{"t":40.4,"v":-0.3},{"t":40.8,"v":-0.5},{"t":41.3,"v":-0.2},{"t":41.8,"v":-1.1},{"t":42.3,"v":-0.3},{"t":42.9,"v":0.4},{"t":43.4,"v":0.1},{"t":43.9,"v":0.5},{"t":44.5,"v":-0.2},{"t":45.3,"v":-0.9},{"t":46.0,"v":-0.2},{"t":46.8,"v":0.3},{"t":47.5,"v":-0.1},{"t":48.3,"v":0.5},{"t":49.0,"v":0.1},{"t":49.7,"v":-0.4},{"t":50.4,"v":-0.1},{"t":51.1,"v":0.5},{"t":51.8,"v":0.0},{"t":52.5,"v":0.3},{"t":53.3,"v":-0.2},{"t":54.0,"v":0.1},{"t":54.6,"v":-0.5},{"t":55.3,"v":0.2},{"t":56.1,"v":0.4},{"t":56.8,"v":-0.2},{"t":57.4,"v":-0.65},{"t":58.1,"v":0.0},{"t":58.8,"v":0.3},{"t":59.6,"v":-0.1},{"t":60.3,"v":0.4},{"t":61.0,"v":-0.2},{"t":61.8,"v":0.2},{"t":62.5,"v":-0.4},{"t":63.3,"v":0.3},{"t":64.0,"v":0.2},{"t":64.7,"v":-0.3},{"t":65.4,"v":-0.3},{"t":66.2,"v":0.1},{"t":67.0,"v":0.5},{"t":67.8,"v":0.0},{"t":68.7,"v":-0.65},{"t":69.5,"v":-0.1},{"t":70.3,"v":0.2},{"t":71.1,"v":-0.2},{"t":72.0,"v":0.3},{"t":72.8,"v":-0.1},{"t":73.7,"v":0.2},{"t":74.6,"v":-0.3},{"t":75.5,"v":0.1},{"t":76.5,"v":0.25},{"t":77.5,"v":-0.15},{"t":78.5,"v":0.2},{"t":79.5,"v":-0.25},{"t":80.5,"v":0.1},{"t":81.5,"v":-0.1},{"t":82.5,"v":0.2},{"t":83.7,"v":-0.2},{"t":85,"v":0.15},{"t":86.3,"v":-0.1},{"t":87.6,"v":0.1},{"t":89,"v":-0.2},{"t":90.3,"v":0.1},{"t":91.6,"v":-0.1},{"t":93,"v":0.2},{"t":94.2,"v":0.3},{"t":95.0,"v":0.46},{"t":96.0,"v":0.1},{"t":97.2,"v":-0.65},{"t":98.3,"v":-0.2},{"t":99.5,"v":0.1},{"t":100.8,"v":0.15},{"t":102,"v":0.1},{"t":103.2,"v":-0.35},{"t":104.5,"v":-0.1},{"t":106,"v":0.1},{"t":108,"v":-0.05},{"t":110,"v":0.1},{"t":113,"v":-0.1},{"t":117,"v":0.05},{"t":121,"v":-0.1},{"t":126,"v":0.1},{"t":131,"v":-0.05},{"t":140,"v":0.05},{"t":150,"v":-0.1},{"t":160,"v":0.05},{"t":175,"v":-0.05},{"t":190,"v":0.05},{"t":210,"v":-0.1},{"t":230,"v":0.05},{"t":250,"v":-0.05},{"t":270,"v":0.05},{"t":285,"v":-0.1},{"t":300,"v":0}
    ],
    "dEW": [
      {"t":0,"v":0},{"t":10,"v":-0.05},{"t":20,"v":0.05},{"t":22.6,"v":0},{"t":23.2,"v":-1.2},{"t":23.8,"v":-2.2},{"t":24.5,"v":-4.7},{"t":24.9,"v":-3.0},{"t":25.4,"v":1.3},{"t":25.9,"v":0.8},{"t":26.3,"v":1.0},{"t":26.8,"v":-1.2},{"t":27.5,"v":3.8},{"t":28.3,"v":6.6},{"t":28.6,"v":5.8},{"t":29.0,"v":-1.9},{"t":29.7,"v":-3.5},{"t":30.2,"v":-3.0},{"t":30.7,"v":-0.3},{"t":31.7,"v":0.8},{"t":33.0,"v":2.2},{"t":33.5,"v":-0.8},{"t":34.2,"v":-1.9},{"t":34.9,"v":1.5},{"t":35.8,"v":-2.2},{"t":36.6,"v":4.0},{"t":37.2,"v":3.8},{"t":37.6,"v":-0.3},{"t":38.5,"v":-3.5},{"t":39.2,"v":-2.2},{"t":39.8,"v":0.1},{"t":40.4,"v":-0.8},{"t":41.2,"v":2.2},{"t":42.0,"v":1.5},{"t":42.9,"v":-0.5},{"t":44.0,"v":-2.2},{"t":45.1,"v":1.0},{"t":45.7,"v":-0.5},{"t":46.4,"v":0.8},{"t":47.0,"v":-0.3},{"t":47.8,"v":1.05},{"t":49.3,"v":-1.2},{"t":50.6,"v":0.5},{"t":51.6,"v":0.1},{"t":52.8,"v":-0.3},{"t":54.0,"v":0.4},{"t":55.0,"v":-0.2},{"t":56.2,"v":-0.3},{"t":57.4,"v":0.4},{"t":58.6,"v":-0.3},{"t":59.7,"v":0.2},{"t":61,"v":-0.4},{"t":62.3,"v":0.2},{"t":63.5,"v":-0.2},{"t":65,"v":0.3},{"t":66.5,"v":-0.1},{"t":68,"v":0.2},{"t":69.5,"v":-0.3},{"t":71,"v":0.1},{"t":72.5,"v":0.2},{"t":74,"v":-0.2},{"t":75.5,"v":0.1},{"t":77,"v":-0.15},{"t":78.5,"v":0.2},{"t":80,"v":-0.1},{"t":81.2,"v":-0.2},{"t":82.4,"v":-0.55},{"t":83.5,"v":0.5},{"t":84.8,"v":0.0},{"t":86,"v":0.1},{"t":87.5,"v":-0.1},{"t":89,"v":0.2},{"t":90.5,"v":-0.1},{"t":92,"v":0.1},{"t":94,"v":-0.2},{"t":96,"v":0.1},{"t":98,"v":-0.1},{"t":100.5,"v":-0.35},{"t":102.5,"v":0.1},{"t":104,"v":0.2},{"t":106,"v":-0.1},{"t":108,"v":0.1},{"t":111,"v":-0.15},{"t":114,"v":0.1},{"t":117,"v":-0.1},{"t":120,"v":0.05},{"t":130,"v":-0.1},{"t":145,"v":0.05},{"t":160,"v":-0.05},{"t":180,"v":0.05},{"t":200,"v":-0.1},{"t":220,"v":0.05},{"t":245,"v":-0.05},{"t":270,"v":0.05},{"t":300,"v":-0.05}
    ],
    "dUD": [
      {"t":0,"v":0},{"t":20.4,"v":0},{"t":21.0,"v":1.0},{"t":21.7,"v":1.4},{"t":22.4,"v":1.3},{"t":23.1,"v":-0.4},{"t":23.8,"v":-1.1},{"t":24.5,"v":-2.0},{"t":25.1,"v":-1.1},{"t":25.7,"v":-1.8},{"t":26.4,"v":-2.9},{"t":27.0,"v":0.0},{"t":27.5,"v":2.6},{"t":28.2,"v":2.1},{"t":28.8,"v":1.9},{"t":29.96,"v":3.1},{"t":30.8,"v":0.3},{"t":31.6,"v":-0.9},{"t":32.5,"v":-1.9},{"t":33.3,"v":-0.9},{"t":34.1,"v":0.5},{"t":35.0,"v":0.8},{"t":35.9,"v":0.3},{"t":36.6,"v":-1.0},{"t":37.2,"v":-1.1},{"t":37.9,"v":1.2},{"t":38.5,"v":0.7},{"t":39.0,"v":-0.1},{"t":40.1,"v":-0.4},{"t":41.2,"v":0.3},{"t":42.3,"v":-0.2},{"t":43.9,"v":0.2},{"t":46.1,"v":-0.3},{"t":48.0,"v":0.1},{"t":50.0,"v":0.4},{"t":52.7,"v":-0.2},{"t":55,"v":0.1},{"t":58,"v":-0.15},{"t":61,"v":0.1},{"t":64,"v":-0.1},{"t":67,"v":0.05},{"t":70,"v":-0.1},{"t":74,"v":0.05},{"t":78,"v":-0.05},{"t":82,"v":0.05},{"t":100,"v":-0.05},{"t":130,"v":0.05},{"t":170,"v":-0.05},{"t":220,"v":0.05},{"t":300,"v":0}
    ],
    "shindo": [
      {"t":4.5,"v":0},{"t":19.7,"v":0},{"t":19.9,"v":1.69},{"t":21.0,"v":2.67},{"t":22.1,"v":3.89},{"t":23.2,"v":4.26},{"t":24.5,"v":4.97},{"t":25.4,"v":5.33},{"t":27.0,"v":5.33},{"t":29.2,"v":5.43},{"t":30.3,"v":5.33},{"t":32.5,"v":5.31},{"t":33.6,"v":5.18},{"t":34.1,"v":4.83},{"t":35.2,"v":4.69},{"t":36.1,"v":4.45},{"t":38.0,"v":4.42},{"t":39.3,"v":4.67},{"t":42.9,"v":4.64},{"t":44.0,"v":4.31},{"t":46.2,"v":3.98},{"t":49.0,"v":3.94},{"t":50.6,"v":3.56},{"t":52.6,"v":3.33},{"t":55.6,"v":2.99},{"t":57.8,"v":3.25},{"t":58.5,"v":3.6},{"t":61.6,"v":3.6},{"t":63.8,"v":3.28},{"t":64.6,"v":2.97},{"t":66.5,"v":2.81},{"t":69.3,"v":2.75},{"t":72.6,"v":2.69},{"t":73.6,"v":2.53},{"t":75.8,"v":2.48},{"t":76.9,"v":2.59},{"t":78.0,"v":2.58},{"t":79.3,"v":2.31},{"t":80.7,"v":2.3},{"t":81.8,"v":2.16},{"t":84.6,"v":1.99},{"t":86.8,"v":1.94},{"t":88.4,"v":1.71},{"t":89.5,"v":1.66},{"t":94.3,"v":1.69},{"t":95.0,"v":2.42},{"t":98.8,"v":2.42},{"t":101.0,"v":1.92},{"t":103.2,"v":1.69},{"t":104.9,"v":1.55},{"t":107.8,"v":1.55},{"t":108.7,"v":1.31},{"t":110.9,"v":1.22},{"t":113.6,"v":1.2},{"t":115.3,"v":1.08},{"t":116.4,"v":1.25},{"t":120.2,"v":1.27},{"t":121.9,"v":1.12},{"t":124.1,"v":1.1},{"t":125.2,"v":0.97},{"t":126.0,"v":1.69},{"t":127.4,"v":1.78},{"t":127.9,"v":2.01},{"t":128.5,"v":3.6},{"t":132.9,"v":3.6},{"t":135.1,"v":2.62},{"t":137.2,"v":1.97},{"t":139.4,"v":1.75},{"t":140.8,"v":1.69},{"t":141.9,"v":1.62},{"t":143.5,"v":1.27},{"t":145.6,"v":0.94},{"t":147.2,"v":0.89},{"t":148.8,"v":0.98},{"t":149.6,"v":0.91},{"t":150.6,"v":1.27},{"t":152.0,"v":1.3},{"t":154.7,"v":1.27},{"t":156.3,"v":0.94},{"t":157.7,"v":0.82},{"t":159.1,"v":1.06},{"t":162.1,"v":1.04},{"t":163.0,"v":1.27},{"t":163.7,"v":1.17},{"t":166.9,"v":1.21},{"t":168.0,"v":1.94},{"t":169.1,"v":2.0},{"t":172.3,"v":2.02},{"t":173.9,"v":1.83},{"t":176.5,"v":1.64},{"t":177.6,"v":1.43},{"t":180.3,"v":1.41},{"t":181.1,"v":1.52},{"t":181.9,"v":1.43},{"t":185.1,"v":1.36},{"t":186.1,"v":1.03},{"t":187.7,"v":0.8},{"t":188.8,"v":0.63},{"t":191.5,"v":0.52},{"t":193.1,"v":0.33},{"t":195.2,"v":0.33},{"t":196.3,"v":0.44},{"t":197.0,"v":0.7},{"t":198.4,"v":0.78},{"t":201.1,"v":0.78},{"t":203.2,"v":0.66},{"t":204.8,"v":0.78},{"t":207.4,"v":0.86},{"t":210.6,"v":0.77},{"t":211.7,"v":0.63},{"t":213.1,"v":0.5},{"t":215.2,"v":0.47},{"t":216.7,"v":0.89},{"t":217.5,"v":0.91},{"t":220.2,"v":0.91},{"t":223.1,"v":0.56},{"t":223.7,"v":1.45},{"t":228.2,"v":1.45},{"t":229.3,"v":0.94},{"t":230.3,"v":0.67},{"t":232.3,"v":0.61},{"t":234.1,"v":0.42},{"t":235.7,"v":0.66},{"t":239.1,"v":0.66},{"t":240.5,"v":0.33},{"t":242.1,"v":0.19},{"t":243.7,"v":0.09},{"t":244.8,"v":0.14},{"t":247.4,"v":0.09},{"t":249.6,"v":0},{"t":254.2,"v":0},{"t":254.9,"v":0.44},{"t":257.1,"v":0.7},{"t":258.7,"v":0.89},{"t":259.4,"v":2.18},{"t":263.7,"v":2.18},{"t":264.6,"v":1.78},{"t":266.2,"v":1.22},{"t":267.2,"v":0.86},{"t":268.8,"v":0.68},{"t":270.1,"v":0.68},{"t":271.0,"v":0.8},{"t":272.6,"v":0.66},{"t":273.1,"v":0.75},{"t":275.3,"v":0.73},{"t":277.9,"v":0.47},{"t":278.5,"v":0.33},{"t":280.1,"v":0.56},{"t":280.6,"v":1.45},{"t":282.2,"v":1.55},{"t":285.4,"v":1.53},{"t":287.0,"v":0.94},{"t":288.6,"v":0.78},{"t":290.8,"v":0.47},{"t":291.8,"v":1.24},{"t":293.2,"v":1.43},{"t":296.1,"v":1.41},{"t":297.7,"v":1.17},{"t":299.0,"v":0.75},{"t":300.0,"v":0.66}
    ],
    "fs": [
      {"c":"UD","p":0.0222,"v":0.1},{"c":"UD","p":0.0229,"v":0.24},{"c":"UD","p":0.0233,"v":0.649},{"c":"UD","p":0.0238,"v":0.429},{"c":"UD","p":0.0243,"v":1.26},{"c":"UD","p":0.0248,"v":0.767},{"c":"UD","p":0.0256,"v":1.62},{"c":"UD","p":0.0265,"v":0.905},{"c":"UD","p":0.027,"v":1.49},{"c":"UD","p":0.0276,"v":2.45},{"c":"UD","p":0.0283,"v":1.49},{"c":"UD","p":0.0291,"v":1.91},{"c":"UD","p":0.03,"v":1.62},{"c":"UD","p":0.031,"v":2.26},{"c":"UD","p":0.032,"v":1.91},{"c":"UD","p":0.0331,"v":1.76},{"c":"UD","p":0.0341,"v":2.9},{"c":"UD","p":0.0352,"v":1.99},{"c":"UD","p":0.0363,"v":2.9},{"c":"UD","p":0.0375,"v":4.04},{"c":"UD","p":0.0387,"v":2.66},{"c":"UD","p":0.04,"v":4.77},{"c":"UD","p":0.0413,"v":3.71},{"c":"UD","p":0.0426,"v":6.36},{"c":"UD","p":0.044,"v":2.9},{"c":"UD","p":0.0454,"v":3.15},{"c":"UD","p":0.0469,"v":2.45},{"c":"UD","p":0.0484,"v":3.15},{"c":"UD","p":0.05,"v":6.64},{"c":"UD","p":0.0516,"v":6.64},{"c":"UD","p":0.0533,"v":4.77},{"c":"UD","p":0.055,"v":9.27},{"c":"UD","p":0.0568,"v":12.9},{"c":"UD","p":0.0586,"v":16.6},{"c":"UD","p":0.0605,"v":14.0},{"c":"UD","p":0.0624,"v":18.1},{"c":"UD","p":0.0644,"v":21.3},{"c":"UD","p":0.0665,"v":25.1},{"c":"UD","p":0.0687,"v":18.1},{"c":"UD","p":0.0709,"v":24.1},{"c":"UD","p":0.0732,"v":21.3},{"c":"UD","p":0.0755,"v":32.3},{"c":"UD","p":0.078,"v":35.1},{"c":"UD","p":0.0805,"v":27.3},{"c":"UD","p":0.0831,"v":35.1},{"c":"UD","p":0.0858,"v":38.1},{"c":"UD","p":0.0885,"v":27.3},{"c":"UD","p":0.0914,"v":32.3},{"c":"UD","p":0.0943,"v":35.1},{"c":"UD","p":0.0974,"v":29.7},{"c":"UD","p":0.1005,"v":23.1},{"c":"UD","p":0.1038,"v":35.1},{"c":"UD","p":0.1072,"v":25.1},{"c":"UD","p":0.1106,"v":16.6},{"c":"UD","p":0.1142,"v":24.1},{"c":"UD","p":0.1178,"v":25.1},{"c":"UD","p":0.1217,"v":35.1},{"c":"UD","p":0.1256,"v":23.1},{"c":"UD","p":0.1296,"v":22.2},{"c":"UD","p":0.1338,"v":29.7},{"c":"UD","p":0.1381,"v":38.1},{"c":"UD","p":0.1426,"v":43.1},{"c":"UD","p":0.1472,"v":48.9},{"c":"UD","p":0.1519,"v":57.7},{"c":"UD","p":0.1568,"v":41.4},{"c":"UD","p":0.1619,"v":32.3},{"c":"UD","p":0.1671,"v":27.3},{"c":"UD","p":0.1725,"v":20.4},{"c":"UD","p":0.1781,"v":29.7},{"c":"UD","p":0.1838,"v":24.1},{"c":"UD","p":0.1898,"v":28.5},{"c":"UD","p":0.1959,"v":26.2},{"c":"UD","p":0.2022,"v":38.1},{"c":"UD","p":0.2087,"v":35.1},{"c":"UD","p":0.2155,"v":41.4},{"c":"UD","p":0.2224,"v":48.9},{"c":"UD","p":0.2296,"v":57.7},{"c":"UD","p":0.237,"v":60.2},{"c":"UD","p":0.2447,"v":53.2},{"c":"UD","p":0.2526,"v":46.9},{"c":"UD","p":0.2608,"v":55.4},{"c":"UD","p":0.2691,"v":57.7},{"c":"UD","p":0.2778,"v":53.2},{"c":"UD","p":0.2868,"v":42.1},{"c":"UD","p":0.296,"v":68.1},{"c":"UD","p":0.3056,"v":80.3},{"c":"UD","p":0.3155,"v":87.4},{"c":"UD","p":0.3256,"v":80.3},{"c":"UD","p":0.347,"v":65.5},{"c":"UD","p":0.3698,"v":71.2},{"c":"UD","p":0.394,"v":60.2},{"c":"UD","p":0.4199,"v":62.7},{"c":"UD","p":0.4474,"v":71.2},{"c":"UD","p":0.4768,"v":80.3},{"c":"UD","p":0.508,"v":68.1},{"c":"UD","p":0.5414,"v":53.2},{"c":"UD","p":0.5769,"v":48.9},{"c":"UD","p":0.6147,"v":51},{"c":"UD","p":0.6551,"v":45},{"c":"UD","p":0.698,"v":35.1},{"c":"UD","p":0.7438,"v":32.3},{"c":"UD","p":0.7926,"v":30.9},{"c":"UD","p":0.8446,"v":28.5},{"c":"UD","p":0.9,"v":26.2},{"c":"UD","p":0.9591,"v":25.1},{"c":"UD","p":1.022,"v":24.1},{"c":"UD","p":1.089,"v":22.7},{"c":"UD","p":1.16,"v":21.8},{"c":"UD","p":1.237,"v":20.9},{"c":"UD","p":1.318,"v":21.6},{"c":"UD","p":1.404,"v":23.5},{"c":"UD","p":1.496,"v":26.2},{"c":"UD","p":1.594,"v":28.5},{"c":"UD","p":1.699,"v":30.2},{"c":"UD","p":1.81,"v":30.2},{"c":"UD","p":1.929,"v":29.7},{"c":"UD","p":2.19,"v":26.9},{"c":"UD","p":2.487,"v":24.1},{"c":"UD","p":2.824,"v":20.4},{"c":"UD","p":3.207,"v":17.3},{"c":"UD","p":3.88,"v":14.0},{"c":"UD","p":4.695,"v":11.4},{"c":"UD","p":5.68,"v":9.9},{"c":"UD","p":6.88,"v":9.13},{"c":"UD","p":8.32,"v":8.54},{"c":"UD","p":10.0,"v":8.06},{"c":"UD","p":12.2,"v":7.73},{"c":"UD","p":14.8,"v":7.54},{"c":"UD","p":20.4,"v":7.11},{"c":"UD","p":28,"v":7.0},{"c":"UD","p":60,"v":7.0},
      {"c":"EW","p":0.0226,"v":0.1},{"c":"EW","p":0.0233,"v":0.363},{"c":"EW","p":0.0241,"v":0.833},{"c":"EW","p":0.0248,"v":0.486},{"c":"EW","p":0.0256,"v":1.26},{"c":"EW","p":0.0265,"v":1.49},{"c":"EW","p":0.0273,"v":0.98},{"c":"EW","p":0.0282,"v":1.91},{"c":"EW","p":0.0291,"v":1.76},{"c":"EW","p":0.03,"v":2.9},{"c":"EW","p":0.031,"v":4.39},{"c":"EW","p":0.032,"v":1.16},{"c":"EW","p":0.0331,"v":4.04},{"c":"EW","p":0.0341,"v":2.9},{"c":"EW","p":0.0352,"v":4.57},{"c":"EW","p":0.0363,"v":6.36},{"c":"EW","p":0.0375,"v":4.77},{"c":"EW","p":0.0387,"v":16.6},{"c":"EW","p":0.04,"v":11.9},{"c":"EW","p":0.0413,"v":18.1},{"c":"EW","p":0.0426,"v":15.3},{"c":"EW","p":0.044,"v":16.6},{"c":"EW","p":0.0454,"v":25.1},{"c":"EW","p":0.0469,"v":16.6},{"c":"EW","p":0.0484,"v":18.1},{"c":"EW","p":0.05,"v":24.1},{"c":"EW","p":0.0516,"v":15.3},{"c":"EW","p":0.0533,"v":21.3},{"c":"EW","p":0.055,"v":29.7},{"c":"EW","p":0.0568,"v":35.1},{"c":"EW","p":0.0586,"v":25.1},{"c":"EW","p":0.0605,"v":29.7},{"c":"EW","p":0.0624,"v":19.6},{"c":"EW","p":0.0644,"v":35.1},{"c":"EW","p":0.0665,"v":25.1},{"c":"EW","p":0.0709,"v":32.3},{"c":"EW","p":0.0755,"v":41.4},{"c":"EW","p":0.0805,"v":53.2},{"c":"EW","p":0.0831,"v":62.7},{"c":"EW","p":0.0858,"v":38.1},{"c":"EW","p":0.0885,"v":35.1},{"c":"EW","p":0.0914,"v":29.7},{"c":"EW","p":0.0943,"v":25.1},{"c":"EW","p":0.0974,"v":57.7},{"c":"EW","p":0.1005,"v":38.1},{"c":"EW","p":0.1038,"v":41.4},{"c":"EW","p":0.1106,"v":62.7},{"c":"EW","p":0.1142,"v":71},{"c":"EW","p":0.1178,"v":57.7},{"c":"EW","p":0.1217,"v":74},{"c":"EW","p":0.1256,"v":53.2},{"c":"EW","p":0.1296,"v":62.7},{"c":"EW","p":0.1338,"v":80.3},{"c":"EW","p":0.1381,"v":84.0},{"c":"EW","p":0.1426,"v":68.1},{"c":"EW","p":0.1472,"v":57.7},{"c":"EW","p":0.1519,"v":57.7},{"c":"EW","p":0.1568,"v":74},{"c":"EW","p":0.1619,"v":41.4},{"c":"EW","p":0.1671,"v":48.9},{"c":"EW","p":0.1725,"v":68.1},{"c":"EW","p":0.1781,"v":84},{"c":"EW","p":0.1838,"v":80.3},{"c":"EW","p":0.1898,"v":68.1},{"c":"EW","p":0.1959,"v":87.4},{"c":"EW","p":0.2022,"v":117.1},{"c":"EW","p":0.2087,"v":87.4},{"c":"EW","p":0.2155,"v":103},{"c":"EW","p":0.2224,"v":80.3},{"c":"EW","p":0.2296,"v":87.4},{"c":"EW","p":0.237,"v":103},{"c":"EW","p":0.2447,"v":87.4},{"c":"EW","p":0.2526,"v":74},{"c":"EW","p":0.2608,"v":87.4},{"c":"EW","p":0.2691,"v":103},{"c":"EW","p":0.2778,"v":144.1},{"c":"EW","p":0.2868,"v":138.2},{"c":"EW","p":0.3056,"v":122},{"c":"EW","p":0.3256,"v":132.6},{"c":"EW","p":0.347,"v":112.3},{"c":"EW","p":0.3698,"v":138.2},{"c":"EW","p":0.394,"v":173},{"c":"EW","p":0.4068,"v":170},{"c":"EW","p":0.4199,"v":127.2},{"c":"EW","p":0.4474,"v":132.6},{"c":"EW","p":0.4768,"v":138.2},{"c":"EW","p":0.508,"v":127.2},{"c":"EW","p":0.5414,"v":124},{"c":"EW","p":0.5769,"v":132.6},{"c":"EW","p":0.6147,"v":122},{"c":"EW","p":0.6551,"v":103},{"c":"EW","p":0.698,"v":84},{"c":"EW","p":0.7438,"v":84},{"c":"EW","p":0.7926,"v":87.4},{"c":"EW","p":0.8446,"v":80.3},{"c":"EW","p":0.9,"v":78.4},{"c":"EW","p":0.9591,"v":78.4},{"c":"EW","p":1.022,"v":76.9},{"c":"EW","p":1.089,"v":72.6},{"c":"EW","p":1.16,"v":65.5},{"c":"EW","p":1.237,"v":55.4},{"c":"EW","p":1.318,"v":48.9},{"c":"EW","p":1.404,"v":44.2},{"c":"EW","p":1.496,"v":41.4},{"c":"EW","p":1.594,"v":42.1},{"c":"EW","p":1.81,"v":44.2},{"c":"EW","p":2.056,"v":46.9},{"c":"EW","p":2.19,"v":48.9},{"c":"EW","p":2.487,"v":45.7},{"c":"EW","p":2.824,"v":43.1},{"c":"EW","p":3.207,"v":36.5},{"c":"EW","p":3.88,"v":29.7},{"c":"EW","p":4.695,"v":24.1},{"c":"EW","p":5.68,"v":21.3},{"c":"EW","p":6.88,"v":18.1},{"c":"EW","p":8.32,"v":15.9},{"c":"EW","p":10.0,"v":14.6},{"c":"EW","p":12.2,"v":13.8},{"c":"EW","p":14.8,"v":13.0},{"c":"EW","p":20.4,"v":12.1},{"c":"EW","p":28.0,"v":11.4},{"c":"EW","p":38.5,"v":11.1},{"c":"EW","p":60,"v":11.1},
      {"c":"NS","p":0.0226,"v":0.1},{"c":"NS","p":0.0233,"v":0.394},{"c":"NS","p":0.0241,"v":0.649},{"c":"NS","p":0.0248,"v":1.07},{"c":"NS","p":0.0256,"v":0.705},{"c":"NS","p":0.0265,"v":0.98},{"c":"NS","p":0.027,"v":0.6},{"c":"NS","p":0.0276,"v":1.26},{"c":"NS","p":0.0282,"v":0.6},{"c":"NS","p":0.0291,"v":2.26},{"c":"NS","p":0.03,"v":1.76},{"c":"NS","p":0.031,"v":2.9},{"c":"NS","p":0.032,"v":1.76},{"c":"NS","p":0.0331,"v":3.15},{"c":"NS","p":0.0352,"v":4.39},{"c":"NS","p":0.0363,"v":6.64},{"c":"NS","p":0.0375,"v":4.04},{"c":"NS","p":0.0387,"v":5.63},{"c":"NS","p":0.04,"v":4.77},{"c":"NS","p":0.0413,"v":8.5},{"c":"NS","p":0.0426,"v":8.9},{"c":"NS","p":0.044,"v":6.9},{"c":"NS","p":0.0454,"v":10.9},{"c":"NS","p":0.0469,"v":9.3},{"c":"NS","p":0.0484,"v":14.0},{"c":"NS","p":0.05,"v":11.9},{"c":"NS","p":0.0516,"v":15.9},{"c":"NS","p":0.055,"v":18.1},{"c":"NS","p":0.0568,"v":15.3},{"c":"NS","p":0.0586,"v":11.9},{"c":"NS","p":0.0605,"v":10.5},{"c":"NS","p":0.0624,"v":19.6},{"c":"NS","p":0.0665,"v":22.2},{"c":"NS","p":0.0687,"v":19.6},{"c":"NS","p":0.0709,"v":21.3},{"c":"NS","p":0.0732,"v":17.3},{"c":"NS","p":0.0755,"v":19.6},{"c":"NS","p":0.078,"v":25.1},{"c":"NS","p":0.0805,"v":29.7},{"c":"NS","p":0.0831,"v":21.3},{"c":"NS","p":0.0858,"v":24.1},{"c":"NS","p":0.0885,"v":29.7},{"c":"NS","p":0.0914,"v":19.6},{"c":"NS","p":0.0943,"v":25.1},{"c":"NS","p":0.0974,"v":28.5},{"c":"NS","p":0.1038,"v":36.5},{"c":"NS","p":0.1106,"v":45.0},{"c":"NS","p":0.1178,"v":57.7},{"c":"NS","p":0.1256,"v":53.2},{"c":"NS","p":0.1296,"v":68.1},{"c":"NS","p":0.1338,"v":62.7},{"c":"NS","p":0.1381,"v":57.7},{"c":"NS","p":0.1426,"v":55.4},{"c":"NS","p":0.1472,"v":87.4},{"c":"NS","p":0.1519,"v":146.5},{"c":"NS","p":0.1568,"v":103},{"c":"NS","p":0.1619,"v":80.3},{"c":"NS","p":0.1671,"v":103},{"c":"NS","p":0.1725,"v":107.8},{"c":"NS","p":0.1781,"v":91.3},{"c":"NS","p":0.1838,"v":80.3},{"c":"NS","p":0.1898,"v":132.6},{"c":"NS","p":0.1959,"v":138.2},{"c":"NS","p":0.2022,"v":132.6},{"c":"NS","p":0.2087,"v":138.2},{"c":"NS","p":0.2155,"v":99.2},{"c":"NS","p":0.2224,"v":74.0},{"c":"NS","p":0.2296,"v":127.2},{"c":"NS","p":0.237,"v":99.2},{"c":"NS","p":0.2447,"v":84.0},{"c":"NS","p":0.2526,"v":87.4},{"c":"NS","p":0.2691,"v":84},{"c":"NS","p":0.2868,"v":74},{"c":"NS","p":0.3056,"v":87.4},{"c":"NS","p":0.3256,"v":99.2},{"c":"NS","p":0.347,"v":112.3},{"c":"NS","p":0.3698,"v":127.2},{"c":"NS","p":0.394,"v":144.1},{"c":"NS","p":0.4199,"v":117.1},{"c":"NS","p":0.4474,"v":103},{"c":"NS","p":0.4768,"v":132.6},{"c":"NS","p":0.508,"v":127.2},{"c":"NS","p":0.5414,"v":103},{"c":"NS","p":0.5769,"v":95.1},{"c":"NS","p":0.6147,"v":127.2},{"c":"NS","p":0.6551,"v":132.6},{"c":"NS","p":0.698,"v":112.3},{"c":"NS","p":0.7438,"v":99.2},{"c":"NS","p":0.7926,"v":99.2},{"c":"NS","p":0.8446,"v":112.3},{"c":"NS","p":0.9,"v":117.1},{"c":"NS","p":0.9591,"v":107.8},{"c":"NS","p":1.022,"v":91.3},{"c":"NS","p":1.089,"v":68.1},{"c":"NS","p":1.16,"v":53.2},{"c":"NS","p":1.237,"v":41.4},{"c":"NS","p":1.318,"v":35.1},{"c":"NS","p":1.404,"v":32.3},{"c":"NS","p":1.496,"v":31.7},{"c":"NS","p":1.594,"v":33.7},{"c":"NS","p":1.81,"v":38.7},{"c":"NS","p":2.056,"v":41.4},{"c":"NS","p":2.334,"v":42.8},{"c":"NS","p":2.65,"v":42.4},{"c":"NS","p":3.009,"v":38.7},{"c":"NS","p":3.417,"v":33.7},{"c":"NS","p":4.135,"v":28.5},{"c":"NS","p":5.003,"v":24.1},{"c":"NS","p":5.68,"v":21.6},{"c":"NS","p":6.88,"v":18.8},{"c":"NS","p":7.81,"v":17.3},{"c":"NS","p":10.0,"v":15.6},{"c":"NS","p":12.2,"v":14.6},{"c":"NS","p":14.8,"v":14.0},{"c":"NS","p":20.4,"v":13.0},{"c":"NS","p":28.0,"v":12.4},{"c":"NS","p":38.5,"v":12.1},{"c":"NS","p":60,"v":12.1}
    ],
    "rs": [
      {"c":"UD","p":0.05,"v":2.42},{"c":"UD","p":0.0586,"v":3.18},{"c":"UD","p":0.0709,"v":4.43},{"c":"UD","p":0.0858,"v":6.19},{"c":"UD","p":0.1006,"v":7.81},{"c":"UD","p":0.1178,"v":10.5},{"c":"UD","p":0.149,"v":14.4},{"c":"UD","p":0.1725,"v":13.6},{"c":"UD","p":0.1984,"v":12.5},{"c":"UD","p":0.2224,"v":15.4},{"c":"UD","p":0.2526,"v":19.4},{"c":"UD","p":0.296,"v":20.1},{"c":"UD","p":0.347,"v":26.4},{"c":"UD","p":0.394,"v":31.4},{"c":"UD","p":0.4474,"v":36.8},{"c":"UD","p":0.4922,"v":36.8},{"c":"UD","p":0.5414,"v":27.5},{"c":"UD","p":0.5961,"v":29.9},{"c":"UD","p":0.6551,"v":23.3},{"c":"UD","p":0.698,"v":23.7},{"c":"UD","p":0.7438,"v":21.1},{"c":"UD","p":0.818,"v":22.5},{"c":"UD","p":0.9,"v":19.8},{"c":"UD","p":0.9905,"v":18.2},{"c":"UD","p":1.089,"v":18.2},{"c":"UD","p":1.198,"v":20.9},{"c":"UD","p":1.277,"v":14.6},{"c":"UD","p":1.496,"v":15.4},{"c":"UD","p":1.594,"v":18.9},{"c":"UD","p":1.81,"v":23.3},{"c":"UD","p":1.997,"v":24.1},{"c":"UD","p":2.334,"v":23.7},{"c":"UD","p":2.565,"v":21.1},{"c":"UD","p":2.824,"v":18.5},{"c":"UD","p":3.11,"v":17.9},{"c":"UD","p":3.528,"v":13.9},{"c":"UD","p":3.99,"v":12.5},{"c":"UD","p":4.54,"v":12.0},{"c":"UD","p":5.003,"v":11.2},{"c":"UD","p":5.68,"v":13.0},{"c":"UD","p":6.47,"v":14.8},{"c":"UD","p":7.34,"v":15.7},{"c":"UD","p":8.32,"v":15.1},{"c":"UD","p":10,"v":13.4},{"c":"UD","p":12.2,"v":14.4},{"c":"UD","p":15.7,"v":15.1},{"c":"UD","p":20.4,"v":15.1},{"c":"UD","p":28,"v":14.8},{"c":"UD","p":50.3,"v":14.2},
      {"c":"EW","p":0.05,"v":6.03},{"c":"EW","p":0.0586,"v":7.92},{"c":"EW","p":0.0755,"v":10.6},{"c":"EW","p":0.1006,"v":13.0},{"c":"EW","p":0.1426,"v":21.8},{"c":"EW","p":0.1959,"v":29.9},{"c":"EW","p":0.2447,"v":35.9},{"c":"EW","p":0.296,"v":50.0},{"c":"EW","p":0.347,"v":63.0},{"c":"EW","p":0.394,"v":88.0},{"c":"EW","p":0.4474,"v":62.0},{"c":"EW","p":0.5008,"v":69.7},{"c":"EW","p":0.5591,"v":63.0},{"c":"EW","p":0.5961,"v":64.1},{"c":"EW","p":0.6551,"v":50.0},{"c":"EW","p":0.698,"v":39.0},{"c":"EW","p":0.7926,"v":49.2},{"c":"EW","p":0.8446,"v":48.4},{"c":"EW","p":0.929,"v":52.4},{"c":"EW","p":1.022,"v":53.4},{"c":"EW","p":1.124,"v":59.5},{"c":"EW","p":1.237,"v":56.2},{"c":"EW","p":1.36,"v":41.7},{"c":"EW","p":1.404,"v":33.9},{"c":"EW","p":1.546,"v":33.9},{"c":"EW","p":1.699,"v":31.9},{"c":"EW","p":1.872,"v":29.9},{"c":"EW","p":1.997,"v":30.4},{"c":"EW","p":2.19,"v":35.9},{"c":"EW","p":2.334,"v":35.3},{"c":"EW","p":2.565,"v":39.0},{"c":"EW","p":3.009,"v":41.7},{"c":"EW","p":3.647,"v":29.9},{"c":"EW","p":4.405,"v":28.2},{"c":"EW","p":4.858,"v":29.9},{"c":"EW","p":5.68,"v":29.9},{"c":"EW","p":6.67,"v":27.5},{"c":"EW","p":7.81,"v":29.1},{"c":"EW","p":10,"v":31.6},{"c":"EW","p":13,"v":31.9},{"c":"EW","p":20.4,"v":30.8},{"c":"EW","p":28,"v":29.9},{"c":"EW","p":50.3,"v":28.7},
      {"c":"NS","p":0.05,"v":3.0},{"c":"NS","p":0.0586,"v":4.43},{"c":"NS","p":0.0709,"v":6.19},{"c":"NS","p":0.0858,"v":8.77},{"c":"NS","p":0.1006,"v":12.0},{"c":"NS","p":0.1178,"v":19.8},{"c":"NS","p":0.1338,"v":27.5},{"c":"NS","p":0.1519,"v":31.9},{"c":"NS","p":0.1959,"v":33.6},{"c":"NS","p":0.237,"v":38.4},{"c":"NS","p":0.296,"v":41.7},{"c":"NS","p":0.347,"v":53.4},{"c":"NS","p":0.394,"v":75.7},{"c":"NS","p":0.4474,"v":68.5},{"c":"NS","p":0.4922,"v":82.2},{"c":"NS","p":0.5414,"v":67.4},{"c":"NS","p":0.5961,"v":69.7},{"c":"NS","p":0.6551,"v":75.7},{"c":"NS","p":0.7438,"v":71.4},{"c":"NS","p":0.8446,"v":60.6},{"c":"NS","p":0.929,"v":65.8},{"c":"NS","p":1.022,"v":57.1},{"c":"NS","p":1.16,"v":50.0},{"c":"NS","p":1.318,"v":41.7},{"c":"NS","p":1.496,"v":31.9},{"c":"NS","p":1.645,"v":28.2},{"c":"NS","p":1.81,"v":32.5},{"c":"NS","p":1.997,"v":37.8},{"c":"NS","p":2.121,"v":33.6},{"c":"NS","p":2.565,"v":33.6},{"c":"NS","p":2.824,"v":39.9},{"c":"NS","p":3.009,"v":41.0},{"c":"NS","p":3.417,"v":37.8},{"c":"NS","p":3.88,"v":29.9},{"c":"NS","p":4.405,"v":28.4},{"c":"NS","p":5.003,"v":29.9},{"c":"NS","p":5.68,"v":32.5},{"c":"NS","p":6.88,"v":36.8},{"c":"NS","p":8.32,"v":38.4},{"c":"NS","p":10,"v":38.4},{"c":"NS","p":12.2,"v":36.8},{"c":"NS","p":15.7,"v":33.9},{"c":"NS","p":20.4,"v":31.1},{"c":"NS","p":28,"v":29.1},{"c":"NS","p":38.5,"v":27.5},{"c":"NS","p":50.3,"v":26.4},
      {"c":"Horizon","p":0.05,"v":6.19},{"c":"Horizon","p":0.0586,"v":8.12},{"c":"Horizon","p":0.0755,"v":11.2},{"c":"Horizon","p":0.1006,"v":14.4},{"c":"Horizon","p":0.1256,"v":21.4},{"c":"Horizon","p":0.1519,"v":31.1},{"c":"Horizon","p":0.1959,"v":39.3},{"c":"Horizon","p":0.2447,"v":42.4},{"c":"Horizon","p":0.296,"v":51.3},{"c":"Horizon","p":0.347,"v":63.0},{"c":"Horizon","p":0.394,"v":97.2},{"c":"Horizon","p":0.4474,"v":77.7},{"c":"Horizon","p":0.4922,"v":98.9},{"c":"Horizon","p":0.5414,"v":88.0},{"c":"Horizon","p":0.5961,"v":75.7},{"c":"Horizon","p":0.6551,"v":86.5},{"c":"Horizon","p":0.7926,"v":67.4},{"c":"Horizon","p":0.9591,"v":67.4},{"c":"Horizon","p":1.089,"v":63.0},{"c":"Horizon","p":1.198,"v":62.0},{"c":"Horizon","p":1.318,"v":43.4},{"c":"Horizon","p":1.496,"v":39.9},{"c":"Horizon","p":1.699,"v":39.9},{"c":"Horizon","p":1.929,"v":38.4},{"c":"Horizon","p":2.056,"v":43.4},{"c":"Horizon","p":2.19,"v":43.4},{"c":"Horizon","p":2.41,"v":41.0},{"c":"Horizon","p":2.65,"v":41.0},{"c":"Horizon","p":3.009,"v":43.0},{"c":"Horizon","p":3.417,"v":39.9},{"c":"Horizon","p":3.99,"v":35.3},{"c":"Horizon","p":4.54,"v":33.1},{"c":"Horizon","p":5.003,"v":33.6},{"c":"Horizon","p":5.51,"v":33.1},{"c":"Horizon","p":6.47,"v":36.2},{"c":"Horizon","p":7.57,"v":38.4},{"c":"Horizon","p":9.01,"v":39.0},{"c":"Horizon","p":10.9,"v":38.4},{"c":"Horizon","p":15.7,"v":34.5},{"c":"Horizon","p":20.4,"v":32.5},{"c":"Horizon","p":30.2,"v":30.4},{"c":"Horizon","p":50.3,"v":29.9}
    ]
  },
  "layer": [
    {
      "layer": [
        {
          "data": {"name": "ps"},
          "layer": [
            {
              "mark": {"type": "rule", "color": "#1a8cff", "strokeWidth": 2.5},
              "encoding": {
                "x": {"field": "t", "type": "quantitative", "scale": {"domain": [0, 300], "range": [106.5, 1328], "nice": false, "zero": false},
                  "axis": {"orient": "top", "offset": -112, "values": [0,10,20,30,40,50,60,70,80,90,100,110,120,130,140,150,160,170,180,190,200,210,220,230,240,250,260,270,280,290,300], "tickSize": -16.5, "tickWidth": 1.2, "domainWidth": 1.5, "labelPadding": 30, "labelFontSize": 20, "labelExpr": "(datum.value % 60) < 10 ? '0' + (datum.value % 60) : '' + (datum.value % 60)", "grid": false, "title": null}},
                "y": {"datum": 0, "type": "quantitative", "scale": {"domain": [0, 1], "range": [112, 140], "nice": false, "zero": false}, "axis": null},
                "y2": {"datum": 0.2857}
              }
            },
            {
              "mark": {"type": "text", "color": "#1a8cff", "fontSize": 18, "baseline": "middle", "align": "center"},
              "encoding": {
                "x": {"field": "t", "type": "quantitative", "scale": {"domain": [0, 300], "range": [106.5, 1328], "nice": false, "zero": false},
                  "axis": {"orient": "top", "offset": -112, "tickCount": 300, "tickSize": -7, "tickWidth": 1, "labels": false, "domain": false, "grid": false, "title": null}},
                "y": {"datum": 0.66, "type": "quantitative", "scale": {"domain": [0, 1], "range": [112, 140], "nice": false, "zero": false}, "axis": null},
                "text": {"field": "p"}
              }
            },
            {
              "data": {"values": [{}]},
              "mark": {"type": "text", "fontSize": 26, "baseline": "middle", "align": "center"},
              "encoding": {
                "x": {"datum": 64, "type": "quantitative", "scale": {"domain": [0, 300], "range": [106.5, 1328], "nice": false, "zero": false}, "axis": null},
                "y": {"datum": -2.46, "type": "quantitative", "scale": {"domain": [0, 1], "range": [112, 140], "nice": false, "zero": false}, "axis": null},
                "text": {"value": "2026/7/28 16:27:00-"}
              }
            },
            {
              "data": {"values": [{}]},
              "mark": {"type": "text", "fontSize": 31, "baseline": "middle", "align": "center"},
              "encoding": {
                "x": {"datum": 206.4, "type": "quantitative", "scale": {"domain": [0, 300], "range": [106.5, 1328], "nice": false, "zero": false}, "axis": null},
                "y": {"datum": -2.52, "type": "quantitative", "scale": {"domain": [0, 1], "range": [112, 140], "nice": false, "zero": false}, "axis": null},
                "text": {"value": "熊本西区春日"}
              }
            }
          ],
          "resolve": {"axis": {"x": "independent"}}
        },
        {
          "layer": [
            {"data": {"name": "aNS"}, "mark": {"type": "line", "color": "#000", "strokeWidth": 1.3, "strokeJoin": "round"},
             "encoding": {"x": {"field": "t", "type": "quantitative", "scale": {"domain": [0, 300], "range": [106.5, 1328], "nice": false, "zero": false}, "axis": null},
               "y": {"field": "v", "type": "quantitative", "scale": {"domain": [-500, 500], "range": [260, 165], "nice": false, "zero": false},
                 "axis": {"orient": "left", "offset": -106.5, "values": [-500, 0, 500], "labelExpr": "'' + datum.value", "tickSize": -16.5, "tickWidth": 1.5, "domainWidth": 1.5, "labelPadding": 31, "labelFontSize": 18, "grid": true, "title": "gal", "titleAngle": 0, "titleAlign": "right", "titleBaseline": "middle", "titleX": -29.5, "titleY": 200, "titleFontSize": 16}}}},
            {"data": {"values": [{}]}, "mark": {"type": "text", "fontSize": 21, "align": "left", "baseline": "middle"},
             "encoding": {"x": {"datum": 0.86, "type": "quantitative", "scale": {"domain": [0, 300], "range": [106.5, 1328], "nice": false, "zero": false}, "axis": null},
               "y": {"datum": 542, "type": "quantitative", "scale": {"domain": [-500, 500], "range": [260, 165], "nice": false, "zero": false},
                 "axis": {"orient": "right", "offset": -988, "values": [-500, 500], "tickSize": -16.5, "tickWidth": 1.5, "domainWidth": 1.5, "labels": false, "grid": false, "title": null}},
               "text": {"value": "加速度NS"}}}
          ],
          "resolve": {"axis": {"y": "independent"}}
        },
        {
          "layer": [
            {"data": {"name": "aEW"}, "mark": {"type": "line", "color": "#000", "strokeWidth": 1.3, "strokeJoin": "round"},
             "encoding": {"x": {"field": "t", "type": "quantitative", "scale": {"domain": [0, 300], "range": [106.5, 1328], "nice": false, "zero": false}, "axis": null},
               "y": {"field": "v", "type": "quantitative", "scale": {"domain": [-500, 500], "range": [374.5, 280], "nice": false, "zero": false},
                 "axis": {"orient": "left", "offset": -106.5, "values": [-500, 0, 500], "labelExpr": "'' + datum.value", "tickSize": -16.5, "tickWidth": 1.5, "domainWidth": 1.5, "labelPadding": 31, "labelFontSize": 18, "grid": true, "title": "gal", "titleAngle": 0, "titleAlign": "right", "titleBaseline": "middle", "titleX": -29.5, "titleY": 315, "titleFontSize": 16}}}},
            {"data": {"values": [{}]}, "mark": {"type": "text", "fontSize": 21, "align": "left", "baseline": "middle"},
             "encoding": {"x": {"datum": 0.86, "type": "quantitative", "scale": {"domain": [0, 300], "range": [106.5, 1328], "nice": false, "zero": false}, "axis": null},
               "y": {"datum": 542, "type": "quantitative", "scale": {"domain": [-500, 500], "range": [374.5, 280], "nice": false, "zero": false},
                 "axis": {"orient": "right", "offset": -988, "values": [-500, 500], "tickSize": -16.5, "tickWidth": 1.5, "domainWidth": 1.5, "labels": false, "grid": false, "title": null}},
               "text": {"value": "EW"}}}
          ],
          "resolve": {"axis": {"y": "independent"}}
        },
        {
          "layer": [
            {"data": {"name": "aUD"}, "mark": {"type": "line", "color": "#000", "strokeWidth": 1.3, "strokeJoin": "round"},
             "encoding": {"x": {"field": "t", "type": "quantitative", "scale": {"domain": [0, 300], "range": [106.5, 1328], "nice": false, "zero": false}, "axis": null},
               "y": {"field": "v", "type": "quantitative", "scale": {"domain": [-500, 500], "range": [489.5, 394], "nice": false, "zero": false},
                 "axis": {"orient": "left", "offset": -106.5, "values": [-500, 0, 500], "labelExpr": "'' + datum.value", "tickSize": -16.5, "tickWidth": 1.5, "domainWidth": 1.5, "labelPadding": 31, "labelFontSize": 18, "grid": true, "title": "gal", "titleAngle": 0, "titleAlign": "right", "titleBaseline": "middle", "titleX": -29.5, "titleY": 429.5, "titleFontSize": 16}}}},
            {"data": {"values": [{}]}, "mark": {"type": "text", "fontSize": 21, "align": "left", "baseline": "middle"},
             "encoding": {"x": {"datum": 0.86, "type": "quantitative", "scale": {"domain": [0, 300], "range": [106.5, 1328], "nice": false, "zero": false}, "axis": null},
               "y": {"datum": 542, "type": "quantitative", "scale": {"domain": [-500, 500], "range": [489.5, 394], "nice": false, "zero": false},
                 "axis": {"orient": "right", "offset": -988, "values": [-500, 500], "tickSize": -16.5, "tickWidth": 1.5, "domainWidth": 1.5, "labels": false, "grid": false, "title": null}},
               "text": {"value": "UD"}}}
          ],
          "resolve": {"axis": {"y": "independent"}}
        },
        {
          "layer": [
            {"data": {"name": "vNS"}, "mark": {"type": "line", "color": "#000", "strokeWidth": 1.3, "strokeJoin": "round"},
             "encoding": {"x": {"field": "t", "type": "quantitative", "scale": {"domain": [0, 300], "range": [106.5, 1328], "nice": false, "zero": false}, "axis": null},
               "y": {"field": "v", "type": "quantitative", "scale": {"domain": [-25, 25], "range": [615, 530], "nice": false, "zero": false},
                 "axis": {"orient": "left", "offset": -106.5, "values": [-25, 0, 25], "labelExpr": "'' + datum.value", "tickSize": -16.5, "tickWidth": 1.5, "domainWidth": 1.5, "labelPadding": 31, "labelFontSize": 18, "grid": true, "title": "cm/sec", "titleAngle": 0, "titleAlign": "right", "titleBaseline": "middle", "titleX": -29.5, "titleY": 560, "titleFontSize": 16}}}},
            {"data": {"values": [{}]}, "mark": {"type": "text", "fontSize": 21, "align": "left", "baseline": "middle"},
             "encoding": {"x": {"datum": 0.86, "type": "quantitative", "scale": {"domain": [0, 300], "range": [106.5, 1328], "nice": false, "zero": false}, "axis": null},
               "y": {"datum": 30.6, "type": "quantitative", "scale": {"domain": [-25, 25], "range": [615, 530], "nice": false, "zero": false},
                 "axis": {"orient": "right", "offset": -988, "values": [-25, 25], "tickSize": -16.5, "tickWidth": 1.5, "domainWidth": 1.5, "labels": false, "grid": false, "title": null}},
               "text": {"value": "速度NS"}}}
          ],
          "resolve": {"axis": {"y": "independent"}}
        },
        {
          "layer": [
            {"data": {"name": "vEW"}, "mark": {"type": "line", "color": "#000", "strokeWidth": 1.3, "strokeJoin": "round"},
             "encoding": {"x": {"field": "t", "type": "quantitative", "scale": {"domain": [0, 300], "range": [106.5, 1328], "nice": false, "zero": false}, "axis": null},
               "y": {"field": "v", "type": "quantitative", "scale": {"domain": [-25, 25], "range": [730, 645], "nice": false, "zero": false},
                 "axis": {"orient": "left", "offset": -106.5, "values": [-25, 0, 25], "labelExpr": "'' + datum.value", "tickSize": -16.5, "tickWidth": 1.5, "domainWidth": 1.5, "labelPadding": 31, "labelFontSize": 18, "grid": true, "title": "cm/sec", "titleAngle": 0, "titleAlign": "right", "titleBaseline": "middle", "titleX": -29.5, "titleY": 675, "titleFontSize": 16}}}},
            {"data": {"values": [{}]}, "mark": {"type": "text", "fontSize": 21, "align": "left", "baseline": "middle"},
             "encoding": {"x": {"datum": 0.86, "type": "quantitative", "scale": {"domain": [0, 300], "range": [106.5, 1328], "nice": false, "zero": false}, "axis": null},
               "y": {"datum": 30.6, "type": "quantitative", "scale": {"domain": [-25, 25], "range": [730, 645], "nice": false, "zero": false},
                 "axis": {"orient": "right", "offset": -988, "values": [-25, 25], "tickSize": -16.5, "tickWidth": 1.5, "domainWidth": 1.5, "labels": false, "grid": false, "title": null}},
               "text": {"value": "EW"}}}
          ],
          "resolve": {"axis": {"y": "independent"}}
        },
        {
          "layer": [
            {"data": {"name": "vUD"}, "mark": {"type": "line", "color": "#000", "strokeWidth": 1.3, "strokeJoin": "round"},
             "encoding": {"x": {"field": "t", "type": "quantitative", "scale": {"domain": [0, 300], "range": [106.5, 1328], "nice": false, "zero": false}, "axis": null},
               "y": {"field": "v", "type": "quantitative", "scale": {"domain": [-25, 25], "range": [843, 759], "nice": false, "zero": false},
                 "axis": {"orient": "left", "offset": -106.5, "values": [-25, 0, 25], "labelExpr": "'' + datum.value", "tickSize": -16.5, "tickWidth": 1.5, "domainWidth": 1.5, "labelPadding": 31, "labelFontSize": 18, "grid": true, "title": "cm/sec", "titleAngle": 0, "titleAlign": "right", "titleBaseline": "middle", "titleX": -29.5, "titleY": 788.5, "titleFontSize": 16}}}},
            {"data": {"values": [{}]}, "mark": {"type": "text", "fontSize": 21, "align": "left", "baseline": "middle"},
             "encoding": {"x": {"datum": 0.86, "type": "quantitative", "scale": {"domain": [0, 300], "range": [106.5, 1328], "nice": false, "zero": false}, "axis": null},
               "y": {"datum": 30.6, "type": "quantitative", "scale": {"domain": [-25, 25], "range": [843, 759], "nice": false, "zero": false},
                 "axis": {"orient": "right", "offset": -988, "values": [-25, 25], "tickSize": -16.5, "tickWidth": 1.5, "domainWidth": 1.5, "labels": false, "grid": false, "title": null}},
               "text": {"value": "UD"}}}
          ],
          "resolve": {"axis": {"y": "independent"}}
        },
        {
          "layer": [
            {"data": {"name": "dNS"}, "mark": {"type": "line", "color": "#000", "strokeWidth": 1.3, "strokeJoin": "round"},
             "encoding": {"x": {"field": "t", "type": "quantitative", "scale": {"domain": [0, 300], "range": [106.5, 1328], "nice": false, "zero": false}, "axis": null},
               "y": {"field": "v", "type": "quantitative", "scale": {"domain": [-5, 5], "range": [969, 896], "nice": false, "zero": false},
                 "axis": {"orient": "left", "offset": -106.5, "values": [-5, 0, 5], "labelExpr": "'' + datum.value", "tickSize": -16.5, "tickWidth": 1.5, "domainWidth": 1.5, "labelPadding": 31, "labelFontSize": 18, "grid": true, "title": "cm", "titleAngle": 0, "titleAlign": "right", "titleBaseline": "middle", "titleX": -29.5, "titleY": 920, "titleFontSize": 16}}}},
            {"data": {"values": [{}]}, "mark": {"type": "text", "fontSize": 21, "align": "left", "baseline": "middle"},
             "encoding": {"x": {"datum": 0.86, "type": "quantitative", "scale": {"domain": [0, 300], "range": [106.5, 1328], "nice": false, "zero": false}, "axis": null},
               "y": {"datum": 7.3, "type": "quantitative", "scale": {"domain": [-5, 5], "range": [969, 896], "nice": false, "zero": false},
                 "axis": {"orient": "right", "offset": -988, "values": [-5, 5], "tickSize": -16.5, "tickWidth": 1.5, "domainWidth": 1.5, "labels": false, "grid": false, "title": null}},
               "text": {"value": "変位NS"}}}
          ],
          "resolve": {"axis": {"y": "independent"}}
        },
        {
          "layer": [
            {"data": {"name": "dEW"}, "mark": {"type": "line", "color": "#000", "strokeWidth": 1.3, "strokeJoin": "round"},
             "encoding": {"x": {"field": "t", "type": "quantitative", "scale": {"domain": [0, 300], "range": [106.5, 1328], "nice": false, "zero": false}, "axis": null},
               "y": {"field": "v", "type": "quantitative", "scale": {"domain": [-5, 5], "range": [1084, 1011], "nice": false, "zero": false},
                 "axis": {"orient": "left", "offset": -106.5, "values": [-5, 0, 5], "labelExpr": "'' + datum.value", "tickSize": -16.5, "tickWidth": 1.5, "domainWidth": 1.5, "labelPadding": 31, "labelFontSize": 18, "grid": true, "title": "cm", "titleAngle": 0, "titleAlign": "right", "titleBaseline": "middle", "titleX": -29.5, "titleY": 1035, "titleFontSize": 16}}}},
            {"data": {"values": [{}]}, "mark": {"type": "text", "fontSize": 21, "align": "left", "baseline": "middle"},
             "encoding": {"x": {"datum": 0.86, "type": "quantitative", "scale": {"domain": [0, 300], "range": [106.5, 1328], "nice": false, "zero": false}, "axis": null},
               "y": {"datum": 7.3, "type": "quantitative", "scale": {"domain": [-5, 5], "range": [1084, 1011], "nice": false, "zero": false},
                 "axis": {"orient": "right", "offset": -988, "values": [-5, 5], "tickSize": -16.5, "tickWidth": 1.5, "domainWidth": 1.5, "labels": false, "grid": false, "title": null}},
               "text": {"value": "EW"}}}
          ],
          "resolve": {"axis": {"y": "independent"}}
        },
        {
          "layer": [
            {"data": {"name": "dUD"}, "mark": {"type": "line", "color": "#000", "strokeWidth": 1.3, "strokeJoin": "round"},
             "encoding": {"x": {"field": "t", "type": "quantitative", "scale": {"domain": [0, 300], "range": [106.5, 1328], "nice": false, "zero": false}, "axis": null},
               "y": {"field": "v", "type": "quantitative", "scale": {"domain": [-5, 5], "range": [1198, 1126], "nice": false, "zero": false},
                 "axis": {"orient": "left", "offset": -106.5, "values": [-5, 0, 5], "labelExpr": "'' + datum.value", "tickSize": -16.5, "tickWidth": 1.5, "domainWidth": 1.5, "labelPadding": 31, "labelFontSize": 18, "grid": true, "title": "cm", "titleAngle": 0, "titleAlign": "right", "titleBaseline": "middle", "titleX": -29.5, "titleY": 1149.5, "titleFontSize": 16}}}},
            {"data": {"values": [{}]}, "mark": {"type": "text", "fontSize": 21, "align": "left", "baseline": "middle"},
             "encoding": {"x": {"datum": 0.86, "type": "quantitative", "scale": {"domain": [0, 300], "range": [106.5, 1328], "nice": false, "zero": false}, "axis": null},
               "y": {"datum": 7.3, "type": "quantitative", "scale": {"domain": [-5, 5], "range": [1198, 1126], "nice": false, "zero": false},
                 "axis": {"orient": "right", "offset": -988, "values": [-5, 5], "tickSize": -16.5, "tickWidth": 1.5, "domainWidth": 1.5, "labels": false, "grid": false, "title": null}},
               "text": {"value": "UD"}}}
          ],
          "resolve": {"axis": {"y": "independent"}}
        },
        {
          "layer": [
            {"data": {"name": "shindo"}, "mark": {"type": "line", "color": "#000", "strokeWidth": 3.5, "strokeJoin": "miter"},
             "encoding": {"x": {"field": "t", "type": "quantitative", "scale": {"domain": [0, 300], "range": [106.5, 1328], "nice": false, "zero": false}, "axis": null},
               "y": {"field": "v", "type": "quantitative", "scale": {"domain": [0, 7], "range": [1508.3, 1259.3], "nice": false, "zero": false},
                 "axis": {"orient": "left", "offset": -106.5, "values": [0, 1, 2, 3, 4, 5, 6, 7], "tickSize": -16.5, "tickWidth": 1.5, "domainWidth": 1.5, "labelPadding": 31, "labelFontSize": 20, "grid": true, "title": null}}}},
            {"data": {"values": [{}]}, "mark": {"type": "text", "fontSize": 25, "align": "left", "baseline": "middle"},
             "encoding": {"x": {"datum": 2.58, "type": "quantitative", "scale": {"domain": [0, 300], "range": [106.5, 1328], "nice": false, "zero": false}, "axis": null},
               "y": {"datum": 7.63, "type": "quantitative", "scale": {"domain": [0, 7], "range": [1508.3, 1259.3], "nice": false, "zero": false},
                 "axis": {"orient": "right", "offset": -988, "values": [0, 1, 2, 3, 4, 5, 6, 7], "tickSize": -16.5, "tickWidth": 1.5, "domainWidth": 1.5, "labels": false, "grid": false, "title": null}},
               "text": {"value": "震度（参考値）: 5.41"}}}
          ],
          "resolve": {"axis": {"y": "independent"}}
        },
        {
          "data": {"name": "ps"},
          "layer": [
            {
              "mark": {"type": "rule", "color": "#1a8cff", "strokeWidth": 2.5},
              "encoding": {
                "x": {"field": "t", "type": "quantitative", "scale": {"domain": [0, 300], "range": [106.5, 1328], "nice": false, "zero": false},
                  "axis": {"orient": "bottom", "offset": -96, "values": [0,10,20,30,40,50,60,70,80,90,100,110,120,130,140,150,160,170,180,190,200,210,220,230,240,250,260,270,280,290,300], "tickSize": -16, "tickWidth": 1.2, "domainWidth": 1.5, "labelPadding": 22, "labelFontSize": 20, "labelExpr": "(datum.value % 60) < 10 ? '0' + (datum.value % 60) : '' + (datum.value % 60)", "grid": false, "title": null}},
                "y": {"datum": 0, "type": "quantitative", "scale": {"domain": [0, 1], "range": [1541, 1513], "nice": false, "zero": false}, "axis": null},
                "y2": {"datum": 0.357}
              }
            },
            {
              "mark": {"type": "text", "color": "#1a8cff", "fontSize": 18, "baseline": "middle", "align": "center"},
              "encoding": {
                "x": {"field": "t", "type": "quantitative", "scale": {"domain": [0, 300], "range": [106.5, 1328], "nice": false, "zero": false},
                  "axis": {"orient": "bottom", "offset": -96, "tickCount": 300, "tickSize": -8, "tickWidth": 1, "labels": false, "domain": false, "grid": false, "title": null}},
                "y": {"datum": 0.68, "type": "quantitative", "scale": {"domain": [0, 1], "range": [1541, 1513], "nice": false, "zero": false}, "axis": null},
                "text": {"field": "p"}
              }
            }
          ],
          "resolve": {"axis": {"x": "independent"}}
        }
      ],
      "resolve": {"scale": {"y": "independent"}, "axis": {"x": "independent", "y": "independent"}}
    },
    {
      "layer": [
        {
          "data": {"name": "fs"},
          "layer": [
            {"transform": [{"filter": "datum.c === 'UD'"}], "mark": {"type": "line", "color": "#0a84ff", "strokeWidth": 2},
             "encoding": {
               "x": {"field": "p", "type": "quantitative", "scale": {"type": "log", "domain": [0.01, 60], "range": [1403.5, 2255], "nice": false},
                 "axis": {"orient": "bottom", "offset": -915, "values": [0.01, 0.1, 1, 10], "format": ".2f", "ticks": false, "tickSize": 0, "domainWidth": 1.5, "grid": true, "gridDash": [], "gridColor": "#000", "labelFontSize": 21, "labelAlign": "left", "labelOffset": -9, "labelPadding": 8, "title": "sec", "titleFontSize": 20, "titleX": 2146.5, "titleY": 29, "titleAlign": "center", "titleBaseline": "middle"}},
               "y": {"field": "v", "type": "quantitative", "scale": {"type": "log", "domain": [0.1, 3000], "range": [722, 128], "nice": false},
                 "axis": {"orient": "left", "offset": -1403.5, "values": [0.1, 1, 10, 100, 1000], "format": ".2f", "ticks": false, "tickSize": 0, "domainWidth": 1.5, "grid": true, "gridDash": [], "gridColor": "#000", "labelFontSize": 16, "labelPadding": 14, "title": "cm/sec(gal･sec)", "titleFontSize": 15, "titleAngle": 0, "titleAlign": "left", "titleBaseline": "middle", "titleX": -41.5, "titleY": 87}}}},
            {"transform": [{"filter": "datum.c === 'EW'"}], "mark": {"type": "line", "color": "#00b000", "strokeWidth": 2},
             "encoding": {
               "x": {"field": "p", "type": "quantitative", "scale": {"type": "log", "domain": [0.01, 60], "range": [1403.5, 2255], "nice": false},
                 "axis": {"orient": "top", "offset": -128, "values": [0.02,0.03,0.04,0.05,0.06,0.07,0.08,0.09,0.2,0.3,0.4,0.5,0.6,0.7,0.8,0.9,2,3,4,5,6,7,8,9,20,30,40,50], "ticks": false, "labels": false, "domain": true, "domainWidth": 1.5, "grid": true, "gridDash": [3, 3], "gridColor": "#8c8c8c", "title": null}},
               "y": {"field": "v", "type": "quantitative", "scale": {"type": "log", "domain": [0.1, 3000], "range": [722, 128], "nice": false},
                 "axis": {"orient": "right", "offset": -61, "values": [0.2,0.3,0.4,0.5,0.6,0.7,0.8,0.9,2,3,4,5,6,7,8,9,20,30,40,50,60,70,80,90,200,300,400,500,600,700,800,900,2000], "ticks": true, "tickSize": -7, "labels": false, "domain": true, "domainWidth": 1.5, "grid": false, "title": null}}}},
            {"transform": [{"filter": "datum.c === 'NS'"}], "mark": {"type": "line", "color": "#ff0000", "strokeWidth": 2},
             "encoding": {
               "x": {"field": "p", "type": "quantitative", "scale": {"type": "log", "domain": [0.01, 60], "range": [1403.5, 2255], "nice": false},
                 "axis": {"orient": "bottom", "offset": -915, "values": [0.02,0.03,0.04,0.05,0.06,0.07,0.08,0.09,0.2,0.3,0.4,0.5,0.6,0.7,0.8,0.9,2,3,4,5,6,7,8,9,20,30,40,50], "ticks": true, "tickSize": -7, "labels": false, "domain": false, "grid": false, "title": null}},
               "y": {"field": "v", "type": "quantitative", "scale": {"type": "log", "domain": [0.1, 3000], "range": [722, 128], "nice": false},
                 "axis": {"orient": "left", "offset": -1403.5, "values": [0.2,0.3,0.4,0.5,0.6,0.7,0.8,0.9,2,3,4,5,6,7,8,9,20,30,40,50,60,70,80,90,200,300,400,500,600,700,800,900,2000], "ticks": true, "tickSize": -7, "labels": false, "domain": false, "grid": true, "gridDash": [3, 3], "gridColor": "#8c8c8c", "title": null}}}},
            {"data": {"values": [{}]}, "mark": {"type": "text", "fontSize": 31, "align": "center", "baseline": "middle"},
             "encoding": {
               "x": {"datum": 0.7727, "type": "quantitative", "scale": {"type": "log", "domain": [0.01, 60], "range": [1403.5, 2255], "nice": false}, "axis": null},
               "y": {"datum": 5702, "type": "quantitative", "scale": {"type": "log", "domain": [0.1, 3000], "range": [722, 128], "nice": false}, "axis": null},
               "text": {"value": "フーリエスペクトル"}}},
            {"data": {"values": [{}]}, "mark": {"type": "text", "fontSize": 22, "align": "left", "baseline": "middle"},
             "encoding": {
               "x": {"datum": 5.276, "type": "quantitative", "scale": {"type": "log", "domain": [0.01, 60], "range": [1403.5, 2255], "nice": false}, "axis": null},
               "y": {"datum": 5272, "type": "quantitative", "scale": {"type": "log", "domain": [0.1, 3000], "range": [722, 128], "nice": false}, "axis": null},
               "text": {"value": "0.4Hz band smoothing"}}}
          ],
          "resolve": {"axis": {"x": "independent", "y": "independent"}}
        },
        {
          "data": {"name": "fleg"},
          "layer": [
            {"mark": {"type": "tick", "orient": "horizontal", "size": 57, "thickness": 2, "xOffset": 28.5},
             "encoding": {
               "x": {"field": "c", "type": "nominal", "scale": {"type": "point", "domain": ["NS", "EW", "UD"], "range": [1700, 1952], "padding": 0}, "axis": null},
               "y": {"datum": 0.0392, "type": "quantitative", "scale": {"type": "log", "domain": [0.1, 3000], "range": [722, 128], "nice": false}, "axis": null},
               "color": {"field": "c", "type": "nominal", "scale": {"domain": ["NS", "EW", "UD", "Horizon"], "range": ["#ff0000", "#00b000", "#0a84ff", "#000000"]}, "legend": null}}},
            {"mark": {"type": "text", "align": "right", "baseline": "middle", "dx": -12, "fontSize": 16},
             "encoding": {
               "x": {"field": "c", "type": "nominal", "scale": {"type": "point", "domain": ["NS", "EW", "UD"], "range": [1700, 1952], "padding": 0}, "axis": null},
               "y": {"datum": 0.0392, "type": "quantitative", "scale": {"type": "log", "domain": [0.1, 3000], "range": [722, 128], "nice": false}, "axis": null},
               "text": {"field": "c"}}}
          ]
        }
      ],
      "resolve": {"scale": {"x": "independent"}, "axis": {"x": "independent", "y": "independent"}}
    },
    {
      "layer": [
        {
          "data": {"name": "rs"},
          "layer": [
            {"transform": [{"filter": "datum.c === 'UD'"}], "mark": {"type": "line", "color": "#0a84ff", "strokeWidth": 2},
             "encoding": {
               "x": {"field": "p", "type": "quantitative", "scale": {"type": "log", "domain": [0.01, 60], "range": [1403.5, 2255], "nice": false},
                 "axis": {"orient": "bottom", "offset": -128, "values": [0.01, 0.1, 1, 10], "format": ".2f", "ticks": false, "tickSize": 0, "domainWidth": 1.5, "grid": true, "gridDash": [], "gridColor": "#000", "labelFontSize": 21, "labelAlign": "left", "labelOffset": -9, "labelPadding": 8, "title": "sec", "titleFontSize": 20, "titleX": 2146.5, "titleY": 28, "titleAlign": "center", "titleBaseline": "middle"}},
               "y": {"field": "v", "type": "quantitative", "scale": {"type": "log", "domain": [0.1, 3000], "range": [1509, 915], "nice": false},
                 "axis": {"orient": "left", "offset": -1403.5, "values": [0.1, 1, 10, 100, 1000], "format": ".2f", "ticks": false, "tickSize": 0, "domainWidth": 1.5, "grid": true, "gridDash": [], "gridColor": "#000", "labelFontSize": 16, "labelPadding": 14, "title": "cm/sec", "titleFontSize": 15, "titleAngle": 0, "titleAlign": "left", "titleBaseline": "middle", "titleX": -38.5, "titleY": 873}}}},
            {"transform": [{"filter": "datum.c === 'EW'"}], "mark": {"type": "line", "color": "#00b000", "strokeWidth": 2},
             "encoding": {
               "x": {"field": "p", "type": "quantitative", "scale": {"type": "log", "domain": [0.01, 60], "range": [1403.5, 2255], "nice": false},
                 "axis": {"orient": "top", "offset": -915, "values": [0.02,0.03,0.04,0.05,0.06,0.07,0.08,0.09,0.2,0.3,0.4,0.5,0.6,0.7,0.8,0.9,2,3,4,5,6,7,8,9,20,30,40,50], "ticks": false, "labels": false, "domain": true, "domainWidth": 1.5, "grid": true, "gridDash": [3, 3], "gridColor": "#8c8c8c", "title": null}},
               "y": {"field": "v", "type": "quantitative", "scale": {"type": "log", "domain": [0.1, 3000], "range": [1509, 915], "nice": false},
                 "axis": {"orient": "right", "offset": -61, "values": [0.2,0.3,0.4,0.5,0.6,0.7,0.8,0.9,2,3,4,5,6,7,8,9,20,30,40,50,60,70,80,90,200,300,400,500,600,700,800,900,2000], "ticks": true, "tickSize": -7, "labels": false, "domain": true, "domainWidth": 1.5, "grid": false, "title": null}}}},
            {"transform": [{"filter": "datum.c === 'NS'"}], "mark": {"type": "line", "color": "#ff0000", "strokeWidth": 2},
             "encoding": {
               "x": {"field": "p", "type": "quantitative", "scale": {"type": "log", "domain": [0.01, 60], "range": [1403.5, 2255], "nice": false},
                 "axis": {"orient": "bottom", "offset": -128, "values": [0.02,0.03,0.04,0.05,0.06,0.07,0.08,0.09,0.2,0.3,0.4,0.5,0.6,0.7,0.8,0.9,2,3,4,5,6,7,8,9,20,30,40,50], "ticks": true, "tickSize": -7, "labels": false, "domain": false, "grid": false, "title": null}},
               "y": {"field": "v", "type": "quantitative", "scale": {"type": "log", "domain": [0.1, 3000], "range": [1509, 915], "nice": false},
                 "axis": {"orient": "left", "offset": -1403.5, "values": [0.2,0.3,0.4,0.5,0.6,0.7,0.8,0.9,2,3,4,5,6,7,8,9,20,30,40,50,60,70,80,90,200,300,400,500,600,700,800,900,2000], "ticks": true, "tickSize": -7, "labels": false, "domain": false, "grid": true, "gridDash": [3, 3], "gridColor": "#8c8c8c", "title": null}}}},
            {"transform": [{"filter": "datum.c === 'Horizon'"}], "mark": {"type": "line", "color": "#000", "strokeWidth": 3.5},
             "encoding": {
               "x": {"field": "p", "type": "quantitative", "scale": {"type": "log", "domain": [0.01, 60], "range": [1403.5, 2255], "nice": false}, "axis": null},
               "y": {"field": "v", "type": "quantitative", "scale": {"type": "log", "domain": [0.1, 3000], "range": [1509, 915], "nice": false}, "axis": null}}},
            {"data": {"values": [{}]}, "mark": {"type": "text", "fontSize": 32, "align": "center", "baseline": "middle"},
             "encoding": {
               "x": {"datum": 0.7727, "type": "quantitative", "scale": {"type": "log", "domain": [0.01, 60], "range": [1403.5, 2255], "nice": false}, "axis": null},
               "y": {"datum": 5902, "type": "quantitative", "scale": {"type": "log", "domain": [0.1, 3000], "range": [1509, 915], "nice": false}, "axis": null},
               "text": {"value": "相対速度応答スペクトル"}}},
            {"data": {"values": [{}]}, "mark": {"type": "text", "fontSize": 21, "align": "right", "baseline": "middle"},
             "encoding": {
               "x": {"datum": 49.4, "type": "quantitative", "scale": {"type": "log", "domain": [0.01, 60], "range": [1403.5, 2255], "nice": false}, "axis": null},
               "y": {"datum": 5603, "type": "quantitative", "scale": {"type": "log", "domain": [0.1, 3000], "range": [1509, 915], "nice": false}, "axis": null},
               "text": {"value": "h=5%"}}}
          ],
          "resolve": {"axis": {"x": "independent", "y": "independent"}}
        },
        {
          "data": {"name": "rleg"},
          "layer": [
            {"transform": [{"filter": "datum.c !== 'Horizon'"}], "mark": {"type": "tick", "orient": "horizontal", "size": 58, "thickness": 2, "xOffset": 29},
             "encoding": {
               "x": {"field": "c", "type": "nominal", "scale": {"type": "point", "domain": ["NS", "EW", "UD", "Horizon"], "range": [1616, 2054.3], "padding": 0}, "axis": null},
               "y": {"datum": 0.0392, "type": "quantitative", "scale": {"type": "log", "domain": [0.1, 3000], "range": [1509, 915], "nice": false}, "axis": null},
               "color": {"field": "c", "type": "nominal", "scale": {"domain": ["NS", "EW", "UD", "Horizon"], "range": ["#ff0000", "#00b000", "#0a84ff", "#000000"]}, "legend": null}}},
            {"transform": [{"filter": "datum.c === 'Horizon'"}], "mark": {"type": "tick", "orient": "horizontal", "size": 58, "thickness": 4, "xOffset": 29},
             "encoding": {
               "x": {"field": "c", "type": "nominal", "scale": {"type": "point", "domain": ["NS", "EW", "UD", "Horizon"], "range": [1616, 2054.3], "padding": 0}, "axis": null},
               "y": {"datum": 0.0392, "type": "quantitative", "scale": {"type": "log", "domain": [0.1, 3000], "range": [1509, 915], "nice": false}, "axis": null},
               "color": {"field": "c", "type": "nominal", "scale": {"domain": ["NS", "EW", "UD", "Horizon"], "range": ["#ff0000", "#00b000", "#0a84ff", "#000000"]}, "legend": null}}},
            {"mark": {"type": "text", "align": "right", "baseline": "middle", "dx": -11.5, "fontSize": 16},
             "encoding": {
               "x": {"field": "c", "type": "nominal", "scale": {"type": "point", "domain": ["NS", "EW", "UD", "Horizon"], "range": [1616, 2054.3], "padding": 0}, "axis": null},
               "y": {"datum": 0.0392, "type": "quantitative", "scale": {"type": "log", "domain": [0.1, 3000], "range": [1509, 915], "nice": false}, "axis": null},
               "text": {"field": "c"}}}
          ]
        }
      ],
      "resolve": {"scale": {"x": "independent"}, "axis": {"x": "independent", "y": "independent"}}
    }
  ],
  "resolve": {"scale": {"x": "independent", "y": "independent"}, "axis": {"x": "independent", "y": "independent"}}
}
